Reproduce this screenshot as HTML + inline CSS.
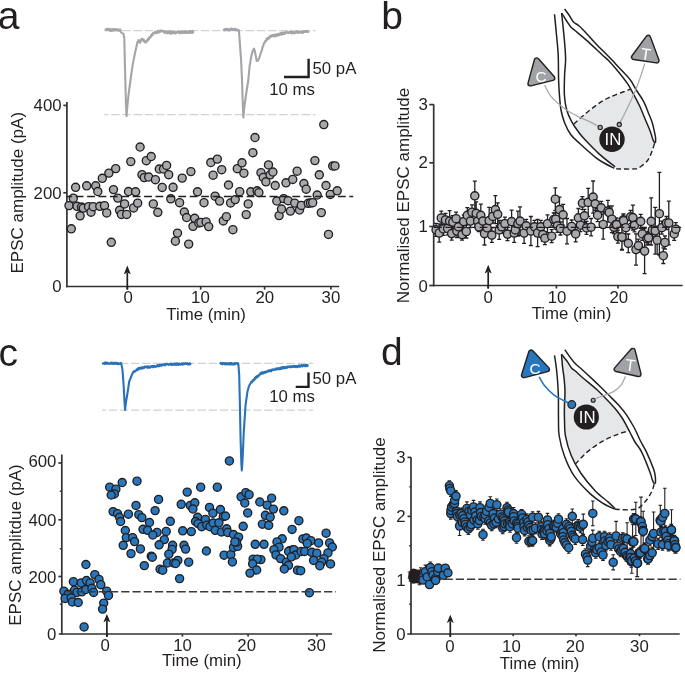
<!DOCTYPE html>
<html><head><meta charset="utf-8"><style>
html,body{margin:0;padding:0;background:#fff;}
svg{display:block;will-change:transform;font-family:"Liberation Sans",sans-serif;}
</style></head><body>
<svg width="685" height="673" viewBox="0 0 685 673">
<rect width="685" height="673" fill="#fff"/>
<path d="M573.80,124.00 C575.83,122.20 582.05,116.48 586.00,113.20 C589.95,109.92 594.00,106.75 597.50,104.30 C601.00,101.85 603.98,100.08 607.00,98.50 C610.02,96.92 611.68,96.35 615.60,94.80 C619.52,93.25 628.02,90.13 630.50,89.20 L632.40,92.20 L639.50,105.80 L645.50,120.00 L650.30,131.40 L652.70,139.00 L654.60,142.80 L654.60,143.20 L651.70,152.30 L647.40,160.80 L640.80,166.50 L635.10,168.90 L616.10,168.90 L615.10,166.80 L599.30,154.10 L585.30,140.10 L578.50,132.00 Z" fill="#e6e7e8" stroke="none"/>
<path d="M554.50,14.30 C554.83,17.75 555.88,28.22 556.50,35.00 C557.12,41.78 557.85,47.50 558.20,55.00 C558.55,62.50 558.38,73.17 558.60,80.00 C558.82,86.83 559.10,91.00 559.50,96.00 C559.90,101.00 560.17,105.58 561.00,110.00 C561.83,114.42 562.88,118.42 564.50,122.50 C566.12,126.58 568.12,130.95 570.70,134.50 C573.28,138.05 575.82,139.95 580.00,143.80 C584.18,147.65 591.63,154.32 595.80,157.60 C599.97,160.88 601.93,161.72 605.00,163.50 C608.07,165.28 612.67,167.50 614.20,168.30" fill="none" stroke="#231f20" stroke-width="1.5" stroke-linejoin="round"/>
<path d="M561.60,13.10 C561.80,14.92 562.27,18.68 562.80,24.00 C563.33,29.32 564.33,39.00 564.80,45.00 C565.27,51.00 565.63,55.00 565.60,60.00 C565.57,65.00 564.80,69.17 564.60,75.00 C564.40,80.83 564.05,89.17 564.40,95.00 C564.75,100.83 565.47,105.53 566.70,110.00 C567.93,114.47 569.83,118.13 571.80,121.80 C573.77,125.47 576.25,128.95 578.50,132.00 C580.75,135.05 581.83,136.42 585.30,140.10 C588.77,143.78 594.33,149.65 599.30,154.10 C604.27,158.55 612.47,164.68 615.10,166.80" fill="none" stroke="#231f20" stroke-width="1.5" stroke-linejoin="round"/>
<path d="M561.60,13.10 C562.33,14.25 564.50,17.73 566.00,20.00 C567.50,22.27 569.15,24.98 570.60,26.70 C572.05,28.42 572.03,28.02 574.70,30.30 C577.37,32.58 582.03,36.33 586.60,40.40 C591.17,44.47 598.45,51.35 602.10,54.70 C605.75,58.05 606.10,58.03 608.50,60.50 C610.90,62.97 613.42,65.77 616.50,69.50 C619.58,73.23 624.35,79.12 627.00,82.90 C629.65,86.68 630.32,88.38 632.40,92.20 C634.48,96.02 637.32,101.17 639.50,105.80 C641.68,110.43 643.70,115.73 645.50,120.00 C647.30,124.27 649.10,128.23 650.30,131.40 C651.50,134.57 651.98,137.10 652.70,139.00 C653.42,140.90 654.28,142.17 654.60,142.80" fill="none" stroke="#231f20" stroke-width="1.5" stroke-linejoin="round"/>
<path d="M564.60,8.90 C565.33,9.92 567.52,12.82 569.00,15.00 C570.48,17.18 571.75,20.13 573.50,22.00 C575.25,23.87 577.08,24.03 579.50,26.20 C581.92,28.37 585.23,32.03 588.00,35.00 C590.77,37.97 592.97,40.72 596.10,44.00 C599.23,47.28 604.15,52.03 606.80,54.70 C609.45,57.37 609.75,57.62 612.00,60.00 C614.25,62.38 617.27,65.70 620.30,69.00 C623.33,72.30 627.53,76.30 630.20,79.80 C632.87,83.30 634.05,86.37 636.30,90.00 C638.55,93.63 641.68,97.77 643.70,101.60 C645.72,105.43 646.98,109.52 648.40,113.00 C649.82,116.48 651.18,119.33 652.20,122.50 C653.22,125.67 653.93,129.42 654.50,132.00 C655.07,134.58 655.43,136.20 655.60,138.00 C655.77,139.80 655.52,142.00 655.50,142.80" fill="none" stroke="#231f20" stroke-width="1.5" stroke-linejoin="round"/>
<path d="M654.6,142.8 L655.5,142.8" stroke="#231f20" stroke-width="1.4"/>
<path d="M573.80,124.00 C575.83,122.20 582.05,116.48 586.00,113.20 C589.95,109.92 594.00,106.75 597.50,104.30 C601.00,101.85 603.98,100.08 607.00,98.50 C610.02,96.92 611.68,96.35 615.60,94.80 C619.52,93.25 628.02,90.13 630.50,89.20" fill="none" stroke="#231f20" stroke-width="1.4" stroke-dasharray="5 3"/>
<path d="M616.10,168.90 C619.27,168.90 630.98,169.30 635.10,168.90 C639.22,168.50 638.75,167.85 640.80,166.50 C642.85,165.15 645.58,163.17 647.40,160.80 C649.22,158.43 650.50,155.23 651.70,152.30 C652.90,149.37 654.12,144.72 654.60,143.20" fill="none" stroke="#231f20" stroke-width="1.4" stroke-dasharray="5 3"/>
<path d="M544.60,85.10 C545.53,86.80 547.73,92.07 550.20,95.30 C552.67,98.53 556.50,101.93 559.40,104.50 C562.30,107.07 564.37,108.65 567.60,110.70 C570.83,112.75 574.88,114.85 578.80,116.80 C582.72,118.75 587.82,120.78 591.10,122.40 C594.38,124.02 597.27,125.82 598.50,126.50" fill="none" stroke="#a7a9ac" stroke-width="1.3"/>
<path d="M644.70,63.60 C644.07,65.60 642.35,71.35 640.90,75.60 C639.45,79.85 637.65,84.93 636.00,89.10 C634.35,93.27 632.83,96.62 631.00,100.60 C629.17,104.58 626.83,109.32 625.00,113.00 C623.17,116.68 620.83,121.08 620.00,122.70" fill="none" stroke="#a7a9ac" stroke-width="1.3"/>
<circle cx="612.0" cy="139.2" r="12.7" fill="#231f20"/>
<text x="613.0" y="144.9" font-size="16.8" text-anchor="middle" fill="#fff">IN</text>
<circle cx="600.2" cy="127.4" r="2.1" fill="#a7a9ac" stroke="#231f20" stroke-width="1.1"/>
<circle cx="619.3" cy="124.5" r="2.1" fill="#a7a9ac" stroke="#231f20" stroke-width="1.1"/>
<path d="M536.70,60.42 L530.39,83.50 L552.35,78.05 Z" fill="#231f20" stroke="#231f20" stroke-width="6.20" stroke-linejoin="round"/><path d="M536.70,60.42 L530.39,83.50 L552.35,78.05 Z" fill="#a0a2a5" stroke="#a0a2a5" stroke-width="3.40" stroke-linejoin="round"/>
<text x="541.0" y="81.8" font-size="15.5" text-anchor="middle" fill="#fff">C</text>
<path d="M648.18,37.77 L633.95,57.17 L656.62,60.52 Z" fill="#231f20" stroke="#231f20" stroke-width="6.20" stroke-linejoin="round"/><path d="M648.18,37.77 L633.95,57.17 L656.62,60.52 Z" fill="#a0a2a5" stroke="#a0a2a5" stroke-width="3.40" stroke-linejoin="round"/>
<text transform="translate(645.0,59.9) rotate(8)" font-size="16.5" text-anchor="middle" fill="#fff">T</text>
<path d="M561.50,354.30 L567.10,361.30 L571.50,368.00 L575.30,371.00 L582.70,377.70 L591.60,385.10 L597.80,390.50 L606.70,399.40 L615.70,409.20 L622.80,419.00 L629.00,430.50 L630.00,430.80 L619.20,433.70 L603.20,440.90 L587.10,452.10 L575.30,464.20 L571.10,455.30 L565.50,436.10 L564.50,420.00 L564.40,406.90 L565.00,392.00 L564.10,378.40 L562.60,367.30 L561.50,354.30 Z" fill="#e6e7e8" stroke="none"/>
<path d="M554.50,355.40 C554.87,358.00 556.07,364.65 556.70,371.00 C557.33,377.35 558.00,385.33 558.30,393.50 C558.60,401.67 558.35,412.92 558.50,420.00 C558.65,427.08 558.18,429.92 559.20,436.00 C560.22,442.08 562.08,449.80 564.60,456.50 C567.12,463.20 570.02,469.97 574.30,476.20 C578.58,482.43 585.48,489.35 590.30,493.90 C595.12,498.45 599.18,500.97 603.20,503.50 C607.22,506.03 612.53,508.17 614.40,509.10" fill="none" stroke="#231f20" stroke-width="1.5" stroke-linejoin="round"/>
<path d="M561.50,354.30 C561.68,356.47 562.17,363.28 562.60,367.30 C563.03,371.32 563.70,374.28 564.10,378.40 C564.50,382.52 564.95,387.25 565.00,392.00 C565.05,396.75 564.48,402.23 564.40,406.90 C564.32,411.57 564.32,415.13 564.50,420.00 C564.68,424.87 564.40,430.22 565.50,436.10 C566.60,441.98 568.57,449.15 571.10,455.30 C573.63,461.45 576.70,467.10 580.70,473.00 C584.70,478.90 590.55,485.88 595.10,490.70 C599.65,495.52 604.65,498.92 608.00,501.90 C611.35,504.88 614.00,507.48 615.20,508.60" fill="none" stroke="#231f20" stroke-width="1.5" stroke-linejoin="round"/>
<path d="M561.50,354.30 C562.43,355.47 565.43,359.02 567.10,361.30 C568.77,363.58 570.13,366.38 571.50,368.00 C572.87,369.62 573.43,369.38 575.30,371.00 C577.17,372.62 579.98,375.35 582.70,377.70 C585.42,380.05 589.08,382.97 591.60,385.10 C594.12,387.23 595.28,388.12 597.80,390.50 C600.32,392.88 603.72,396.28 606.70,399.40 C609.68,402.52 613.02,405.93 615.70,409.20 C618.38,412.47 620.58,415.45 622.80,419.00 C625.02,422.55 626.97,426.67 629.00,430.50 C631.03,434.33 632.88,438.40 635.00,442.00 C637.12,445.60 639.25,447.20 641.70,452.10 C644.15,457.00 647.95,466.85 649.70,471.40 C651.45,475.95 651.52,477.40 652.20,479.40 C652.88,481.40 653.53,482.73 653.80,483.40" fill="none" stroke="#231f20" stroke-width="1.5" stroke-linejoin="round"/>
<path d="M564.90,349.80 C565.63,350.85 567.70,353.93 569.30,356.10 C570.90,358.27 572.38,360.57 574.50,362.80 C576.62,365.03 579.15,366.90 582.00,369.50 C584.85,372.10 588.37,375.35 591.60,378.40 C594.83,381.45 598.43,384.90 601.40,387.80 C604.37,390.70 606.58,392.97 609.40,395.80 C612.22,398.63 615.48,401.67 618.30,404.80 C621.12,407.93 623.62,410.73 626.30,414.60 C628.98,418.47 632.12,423.77 634.40,428.00 C636.68,432.23 637.98,435.98 640.00,440.00 C642.02,444.02 644.20,447.13 646.50,452.10 C648.80,457.07 652.32,465.52 653.80,469.80 C655.28,474.08 655.13,475.53 655.40,477.80 C655.67,480.07 655.40,482.47 655.40,483.40" fill="none" stroke="#231f20" stroke-width="1.5" stroke-linejoin="round"/>
<path d="M653.8,483.4 L655.4,483.4" stroke="#231f20" stroke-width="1.4"/>
<path d="M575.30,464.20 C577.27,462.18 582.45,455.98 587.10,452.10 C591.75,448.22 597.85,443.97 603.20,440.90 C608.55,437.83 614.73,435.38 619.20,433.70 C623.67,432.02 628.20,431.28 630.00,430.80" fill="none" stroke="#231f20" stroke-width="1.4" stroke-dasharray="5 3"/>
<path d="M614.80,509.30 C618.22,509.30 630.28,510.53 635.30,509.30 C640.32,508.07 642.22,504.73 644.90,501.90 C647.58,499.07 649.85,495.28 651.40,492.30 C652.95,489.32 653.73,485.38 654.20,484.00" fill="none" stroke="#231f20" stroke-width="1.4" stroke-dasharray="5 3"/>
<path d="M539.10,376.80 C539.98,378.25 541.95,382.50 544.40,385.50 C546.85,388.50 550.68,392.35 553.80,394.80 C556.92,397.25 560.65,398.85 563.10,400.20 C565.55,401.55 567.60,402.45 568.50,402.90" fill="none" stroke="#2877bd" stroke-width="1.6"/>
<path d="M625.50,376.20 C624.75,377.70 622.93,382.67 621.00,385.20 C619.07,387.73 616.57,389.77 613.90,391.40 C611.23,393.03 608.05,393.82 605.00,395.00 C601.95,396.18 597.17,397.92 595.60,398.50" fill="none" stroke="#a7a9ac" stroke-width="1.3"/>
<circle cx="586.3" cy="417.0" r="12.6" fill="#231f20"/>
<text x="587.2" y="422.8" font-size="16.8" text-anchor="middle" fill="#fff">IN</text>
<circle cx="571.8" cy="404.6" r="3.9" fill="#2877bd" stroke="#231f20" stroke-width="1.2"/>
<circle cx="593.2" cy="400.3" r="2.0" fill="#a7a9ac" stroke="#231f20" stroke-width="1.1"/>
<path d="M531.08,352.43 L523.94,375.26 L547.01,369.26 Z" fill="#231f20" stroke="#231f20" stroke-width="6.20" stroke-linejoin="round"/><path d="M531.08,352.43 L523.94,375.26 L547.01,369.26 Z" fill="#2877bd" stroke="#2877bd" stroke-width="3.40" stroke-linejoin="round"/>
<text x="535.0" y="373.6" font-size="15.5" text-anchor="middle" fill="#fff">C</text>
<path d="M632.76,350.81 L616.63,369.19 L638.62,374.20 Z" fill="#231f20" stroke="#231f20" stroke-width="6.20" stroke-linejoin="round"/><path d="M632.76,350.81 L616.63,369.19 L638.62,374.20 Z" fill="#a0a2a5" stroke="#a0a2a5" stroke-width="3.40" stroke-linejoin="round"/>
<text transform="translate(629.6,371.0) rotate(8)" font-size="16.5" text-anchor="middle" fill="#fff">T</text>
<text x="-2.30" y="28.50" font-size="39" text-anchor="start" fill="#231f20" >a</text>
<text x="381.30" y="28.50" font-size="39" text-anchor="start" fill="#231f20" >b</text>
<text x="-1.50" y="365.50" font-size="39" text-anchor="start" fill="#231f20" >c</text>
<text x="381.00" y="365.30" font-size="39" text-anchor="start" fill="#231f20" >d</text>
<line x1="104.10" y1="30.60" x2="315.60" y2="30.60" stroke="#cfd1d2" stroke-width="1.3" stroke-dasharray="8.4 2.8" stroke-dashoffset="4.1"/>
<line x1="104.10" y1="114.70" x2="315.60" y2="114.70" stroke="#cfd1d2" stroke-width="1.3" stroke-dasharray="8.4 2.8" stroke-dashoffset="4.1"/>
<path d="M105.70,29.51 L106.00,29.13 L106.30,30.24 L106.60,28.97 L106.90,29.99 L107.20,29.61 L107.50,28.94 L107.80,29.93 L108.10,28.90 L108.40,29.77 L108.70,28.97 L109.00,29.02 L109.30,29.76 L109.60,30.65 L109.90,29.10 L110.20,29.32 L110.50,30.21 L110.80,30.92 L111.10,30.11 L111.40,29.71 L111.70,30.99 L112.00,28.94 L112.30,30.73 L112.60,29.48 L112.90,29.17 L113.20,29.11 L113.50,29.53 L113.80,30.65 L114.10,29.25 L114.40,30.14 L114.70,30.27 L115.00,29.68 L115.30,30.07 L115.60,29.00 L115.90,29.00 L116.20,29.32 L116.50,30.37 L116.80,29.81 L117.10,29.57 L117.40,30.17 L117.70,29.88 L118.00,29.54 L118.30,30.63 L118.60,30.42 L118.90,29.43 L119.20,30.15 L119.50,30.05 L119.80,30.82 L120.10,30.50 L120.40,29.53 L120.70,31.06 L121.10,32.30 L123.40,33.80 L124.30,37.80 L124.70,55.60 L125.30,80.00 L126.00,105.00 L126.50,116.30 L127.20,108.00 L128.50,95.00 L130.50,80.00 L132.70,64.60 L135.00,53.00 L137.20,43.20 L137.20,42.36 L137.52,42.34 L137.85,42.42 L138.18,40.41 L138.50,40.48 L138.85,39.99 L139.20,41.87 L139.55,42.58 L139.90,42.66 L140.24,42.57 L140.58,40.57 L140.92,40.65 L141.26,39.67 L141.60,38.88 L141.93,38.86 L142.26,39.96 L142.59,40.45 L142.91,39.67 L143.24,40.35 L143.57,39.28 L143.90,40.94 L144.21,41.11 L144.53,42.16 L144.84,42.07 L145.16,41.17 L145.47,41.68 L145.79,42.59 L146.10,41.45 L146.41,41.94 L146.73,40.83 L147.04,40.24 L147.36,39.64 L147.67,40.73 L147.99,38.86 L148.30,38.64 L148.63,38.55 L148.95,39.20 L149.28,37.05 L149.61,37.45 L149.94,37.26 L150.26,37.59 L150.59,37.04 L150.92,36.73 L151.25,35.03 L151.57,34.92 L151.90,34.39 L152.23,35.35 L152.55,35.31 L152.88,33.33 L153.21,33.19 L153.54,33.11 L153.86,32.91 L154.19,33.27 L154.52,33.30 L154.85,32.38 L155.17,31.61 L155.50,32.32 L155.81,32.13 L156.13,32.47 L156.44,33.24 L156.76,32.58 L157.07,32.11 L157.39,32.24 L157.70,32.29 L158.01,30.83 L158.33,32.61 L158.64,32.26 L158.96,32.38 L159.27,32.13 L159.59,31.15 L159.90,31.08 L160.23,30.49 L160.55,31.72 L160.88,30.53 L161.21,30.60 L161.54,30.98 L161.86,30.94 L162.19,31.39 L162.52,30.82 L162.85,30.77 L163.17,31.17 L163.50,31.12 L163.81,31.73 L164.12,31.01 L164.43,32.91 L164.74,32.37 L165.05,31.37 L165.36,31.63 L165.67,31.86 L165.98,31.93 L166.29,31.43 L166.60,33.05 L166.90,33.40 L167.21,32.27 L167.52,32.34 L167.83,31.49 L168.14,31.55 L168.45,32.11 L168.76,31.97 L169.07,33.24 L169.38,31.80 L169.69,31.52 L170.00,33.59 L170.30,32.65 L170.61,31.80 L170.91,32.66 L171.22,31.52 L171.52,32.61 L171.82,33.59 L172.13,33.33 L172.43,32.95 L172.74,31.98 L173.04,32.20 L173.34,31.75 L173.65,33.07 L173.95,32.53 L174.26,33.07 L174.56,32.07 L174.86,31.82 L175.17,33.11 L175.47,33.48 L175.78,33.18 L176.08,33.06 L176.38,33.08 L176.69,32.90 L176.99,31.76 L177.29,32.39 L177.60,32.02 L177.90,31.29 L178.21,31.28 L178.51,31.82 L178.81,31.76 L179.12,32.71 L179.42,33.28 L179.73,32.15 L180.03,33.21 L180.33,33.32 L180.64,33.23 L180.94,31.92 L181.25,31.60 L181.55,31.60 L181.85,31.52 L182.16,31.53 L182.46,32.44 L182.77,33.04 L183.07,32.90 L183.37,32.09 L183.68,32.46 L183.98,32.78 L184.29,31.19 L184.59,32.45 L184.89,32.99 L185.20,32.69 L185.50,32.61 L185.81,32.00 L186.11,31.33 L186.41,32.67 L186.72,31.65 L187.02,32.67 L187.32,33.04 L187.63,31.76 L187.93,31.76 L188.24,32.95 L188.54,32.45 L188.84,31.22 L189.15,31.12 L189.45,31.16 L189.76,32.81 L190.06,32.58 L190.36,31.12 L190.67,32.60 L190.97,32.93 L191.28,32.21 L191.58,31.52 L191.88,31.95 L192.19,31.02 L192.49,30.75 L192.80,32.85 L193.10,31.80" fill="none" stroke="#a3a5a8" stroke-width="2.1" stroke-linejoin="round" stroke-linecap="round"/>
<path d="M223.70,29.80 L224.00,29.56 L224.30,30.37 L224.60,29.37 L224.90,30.25 L225.20,30.16 L225.50,28.93 L225.80,29.02 L226.10,29.10 L226.40,29.00 L226.70,29.69 L227.00,29.04 L227.30,29.36 L227.60,28.79 L227.90,30.35 L228.20,29.24 L228.50,29.45 L228.80,29.70 L229.10,30.35 L229.40,29.38 L229.70,30.38 L230.00,29.55 L230.30,29.61 L230.60,29.60 L230.90,28.59 L231.20,29.43 L231.50,28.92 L231.80,28.57 L232.10,30.16 L232.40,28.91 L232.70,29.51 L233.00,30.02 L233.30,29.68 L233.60,29.22 L233.90,29.61 L234.20,29.69 L234.50,30.15 L234.80,28.79 L235.10,29.70 L235.40,29.08 L235.70,29.14 L236.00,30.13 L236.30,29.60 L236.60,29.71 L236.90,30.11 L237.20,30.42 L237.50,29.48 L237.80,29.83 L238.90,30.50 L239.80,42.30 L241.10,60.10 L242.00,80.00 L242.80,105.00 L243.40,117.50 L244.20,108.00 L246.00,95.00 L248.30,80.00 L249.60,66.30 L251.40,55.60 L253.00,50.00 L254.10,48.50 L255.20,53.00 L256.70,61.00 L258.00,60.50 L259.40,57.40 L259.40,57.41 L259.70,56.46 L260.00,55.85 L260.30,54.40 L260.60,53.60 L260.90,52.52 L261.20,52.48 L261.50,51.03 L261.80,50.42 L262.10,49.58 L262.40,47.25 L262.70,46.89 L263.00,46.69 L263.32,45.92 L263.64,43.95 L263.95,43.35 L264.27,43.43 L264.59,42.13 L264.91,41.90 L265.23,41.00 L265.55,41.63 L265.86,41.30 L266.18,40.96 L266.50,38.91 L266.80,39.77 L267.10,39.40 L267.40,38.11 L267.70,39.33 L268.00,39.24 L268.30,37.49 L268.60,38.70 L268.90,37.33 L269.20,37.25 L269.50,38.00 L269.80,37.42 L270.10,35.82 L270.41,36.30 L270.72,36.40 L271.03,35.98 L271.34,35.63 L271.65,35.81 L271.96,36.55 L272.27,35.08 L272.58,36.09 L272.89,35.80 L273.20,34.89 L273.51,35.45 L273.82,35.97 L274.13,35.68 L274.44,34.72 L274.75,36.50 L275.06,36.04 L275.37,36.34 L275.68,34.54 L275.99,34.80 L276.30,34.28 L276.61,35.67 L276.93,34.57 L277.24,34.20 L277.55,34.70 L277.87,35.59 L278.18,35.32 L278.49,34.11 L278.80,33.80 L279.12,35.26 L279.43,34.47 L279.74,34.64 L280.06,33.34 L280.37,33.18 L280.68,34.36 L281.00,33.75 L281.31,32.95 L281.62,34.60 L281.93,33.90 L282.25,34.15 L282.56,32.63 L282.87,34.09 L283.19,32.42 L283.50,33.93 L283.81,33.08 L284.12,32.82 L284.43,33.22 L284.74,33.94 L285.05,32.59 L285.36,32.29 L285.67,33.05 L285.98,32.45 L286.29,32.16 L286.60,32.24 L286.90,31.99 L287.21,32.26 L287.52,32.45 L287.83,32.41 L288.14,33.29 L288.45,32.32 L288.76,32.71 L289.07,32.04 L289.38,32.35 L289.69,31.66 L290.00,32.10 L290.30,31.62 L290.60,33.04 L290.90,32.66 L291.20,31.93 L291.50,32.49 L291.80,33.39 L292.10,31.72 L292.40,33.13 L292.70,32.35 L293.00,32.46 L293.30,33.13 L293.60,32.23 L293.90,32.45 L294.20,32.79 L294.50,33.37 L294.80,32.08 L295.10,33.05 L295.40,32.78 L295.70,32.63 L296.00,32.15 L296.30,32.02 L296.60,31.42 L296.90,31.56 L297.20,31.43 L297.50,32.76 L297.80,31.78 L298.10,31.58 L298.40,31.41 L298.70,32.91 L299.00,32.95 L299.30,32.54 L299.60,31.75 L299.90,31.66 L300.20,31.75 L300.50,32.07 L300.80,31.45 L301.10,32.01 L301.40,31.64 L301.70,33.02 L302.00,33.03 L302.30,32.17 L302.60,31.55 L302.90,32.98 L303.20,31.65 L303.50,31.73 L303.80,31.01 L304.10,31.76 L304.40,31.93 L304.70,31.97 L305.00,31.36 L305.30,31.95 L305.60,30.94 L305.90,31.44 L306.20,31.08 L306.50,31.69 L306.80,30.96 L307.10,30.91 L307.40,31.46 L307.70,31.30 L308.00,32.00 L308.30,31.87 L308.60,31.80" fill="none" stroke="#a3a5a8" stroke-width="2.1" stroke-linejoin="round" stroke-linecap="round"/>
<path d="M284.0,77.0 H308.6 V58.8" fill="none" stroke="#231f20" stroke-width="2.4"/>
<text x="312.50" y="74.20" font-size="16.8" text-anchor="start" fill="#231f20" >50 pA</text>
<text x="269.20" y="94.50" font-size="16.8" text-anchor="start" fill="#231f20" >10 ms</text>
<line x1="66.90" y1="102.10" x2="66.90" y2="287.30" stroke="#333132" stroke-width="1.7" />
<line x1="66.10" y1="286.50" x2="339.20" y2="286.50" stroke="#333132" stroke-width="1.7" />
<line x1="63.30" y1="105.40" x2="66.90" y2="105.40" stroke="#333132" stroke-width="1.7" />
<line x1="63.30" y1="192.80" x2="66.90" y2="192.80" stroke="#333132" stroke-width="1.7" />
<line x1="127.40" y1="286.50" x2="127.40" y2="289.60" stroke="#333132" stroke-width="1.7" />
<line x1="200.70" y1="286.50" x2="200.70" y2="289.60" stroke="#333132" stroke-width="1.7" />
<line x1="264.60" y1="286.50" x2="264.60" y2="289.60" stroke="#333132" stroke-width="1.7" />
<line x1="330.90" y1="286.50" x2="330.90" y2="289.60" stroke="#333132" stroke-width="1.7" />
<text x="61.60" y="110.70" font-size="16.8" text-anchor="end" fill="#231f20" >400</text>
<text x="61.60" y="198.70" font-size="16.8" text-anchor="end" fill="#231f20" >200</text>
<text x="61.60" y="292.30" font-size="16.8" text-anchor="end" fill="#231f20" >0</text>
<text x="128.10" y="303.40" font-size="16.8" text-anchor="middle" fill="#231f20" >0</text>
<text x="200.40" y="303.40" font-size="16.8" text-anchor="middle" fill="#231f20" >10</text>
<text x="264.85" y="303.40" font-size="16.8" text-anchor="middle" fill="#231f20" >20</text>
<text x="330.90" y="303.40" font-size="16.8" text-anchor="middle" fill="#231f20" >30</text>
<text transform="translate(23.00,273.50) rotate(-90)" font-size="17.0" fill="#231f20">EPSC amplitude (pA)</text>
<text x="166.30" y="319.70" font-size="16.8" text-anchor="start" fill="#231f20" >Time (min)</text>
<line x1="127.30" y1="272.60" x2="127.30" y2="289.50" stroke="#231f20" stroke-width="1.7" />
<path d="M127.30,265.40 L130.80,274.20 L127.30,272.40 L123.80,274.20 Z" fill="#231f20"/>
<g fill="#a7a9ac" stroke="#231f20" stroke-width="1.35"><circle cx="69.0" cy="205.6" r="4.05"/><circle cx="73.3" cy="198.2" r="4.05"/><circle cx="75.6" cy="187.3" r="4.05"/><circle cx="77.1" cy="206.3" r="4.05"/><circle cx="80.1" cy="215.8" r="4.05"/><circle cx="81.5" cy="207.0" r="4.05"/><circle cx="83.3" cy="208.1" r="4.05"/><circle cx="86.7" cy="185.8" r="4.05"/><circle cx="88.5" cy="206.7" r="4.05"/><circle cx="91.0" cy="212.2" r="4.05"/><circle cx="93.2" cy="206.7" r="4.05"/><circle cx="95.7" cy="185.8" r="4.05"/><circle cx="97.8" cy="191.5" r="4.05"/><circle cx="99.8" cy="206.3" r="4.05"/><circle cx="102.3" cy="178.3" r="4.05"/><circle cx="104.5" cy="205.6" r="4.05"/><circle cx="106.7" cy="212.9" r="4.05"/><circle cx="108.9" cy="173.1" r="4.05"/><circle cx="113.5" cy="189.6" r="4.05"/><circle cx="115.7" cy="168.6" r="4.05"/><circle cx="117.8" cy="198.1" r="4.05"/><circle cx="119.6" cy="210.3" r="4.05"/><circle cx="121.4" cy="214.4" r="4.05"/><circle cx="124.6" cy="203.9" r="4.05"/><circle cx="126.7" cy="214.4" r="4.05"/><circle cx="128.5" cy="191.5" r="4.05"/><circle cx="130.8" cy="161.6" r="4.05"/><circle cx="133.6" cy="207.9" r="4.05"/><circle cx="135.6" cy="191.8" r="4.05"/><circle cx="137.7" cy="203.1" r="4.05"/><circle cx="71.3" cy="228.8" r="4.05"/><circle cx="111.3" cy="242.3" r="4.05"/><circle cx="140.1" cy="147.0" r="4.05"/><circle cx="142.0" cy="174.7" r="4.05"/><circle cx="144.2" cy="177.6" r="4.05"/><circle cx="146.3" cy="160.7" r="4.05"/><circle cx="148.7" cy="177.0" r="4.05"/><circle cx="151.2" cy="156.5" r="4.05"/><circle cx="153.3" cy="203.9" r="4.05"/><circle cx="155.4" cy="179.7" r="4.05"/><circle cx="157.8" cy="212.3" r="4.05"/><circle cx="159.3" cy="169.0" r="4.05"/><circle cx="162.2" cy="187.4" r="4.05"/><circle cx="163.5" cy="169.0" r="4.05"/><circle cx="166.6" cy="165.4" r="4.05"/><circle cx="168.7" cy="174.7" r="4.05"/><circle cx="170.8" cy="198.8" r="4.05"/><circle cx="173.1" cy="187.3" r="4.05"/><circle cx="175.4" cy="241.2" r="4.05"/><circle cx="177.5" cy="233.1" r="4.05"/><circle cx="179.6" cy="202.7" r="4.05"/><circle cx="182.2" cy="178.1" r="4.05"/><circle cx="184.3" cy="212.0" r="4.05"/><circle cx="186.6" cy="217.5" r="4.05"/><circle cx="188.7" cy="244.1" r="4.05"/><circle cx="190.9" cy="171.6" r="4.05"/><circle cx="193.0" cy="226.3" r="4.05"/><circle cx="194.7" cy="218.3" r="4.05"/><circle cx="197.5" cy="191.8" r="4.05"/><circle cx="198.8" cy="223.0" r="4.05"/><circle cx="200.9" cy="222.4" r="4.05"/><circle cx="206.1" cy="221.9" r="4.05"/><circle cx="208.7" cy="226.6" r="4.05"/><circle cx="204.0" cy="202.7" r="4.05"/><circle cx="210.8" cy="162.5" r="4.05"/><circle cx="213.1" cy="175.2" r="4.05"/><circle cx="215.1" cy="196.2" r="4.05"/><circle cx="217.3" cy="159.1" r="4.05"/><circle cx="219.6" cy="201.1" r="4.05"/><circle cx="221.7" cy="169.7" r="4.05"/><circle cx="223.3" cy="220.9" r="4.05"/><circle cx="226.4" cy="216.7" r="4.05"/><circle cx="228.5" cy="185.0" r="4.05"/><circle cx="230.6" cy="202.9" r="4.05"/><circle cx="232.9" cy="229.7" r="4.05"/><circle cx="235.2" cy="199.6" r="4.05"/><circle cx="237.3" cy="168.7" r="4.05"/><circle cx="239.7" cy="191.7" r="4.05"/><circle cx="242.0" cy="162.8" r="4.05"/><circle cx="243.9" cy="173.2" r="4.05"/><circle cx="246.2" cy="214.6" r="4.05"/><circle cx="248.2" cy="203.9" r="4.05"/><circle cx="250.8" cy="191.8" r="4.05"/><circle cx="252.9" cy="152.7" r="4.05"/><circle cx="255.0" cy="137.5" r="4.05"/><circle cx="257.1" cy="190.8" r="4.05"/><circle cx="258.9" cy="192.6" r="4.05"/><circle cx="261.0" cy="172.7" r="4.05"/><circle cx="263.3" cy="177.4" r="4.05"/><circle cx="265.9" cy="181.8" r="4.05"/><circle cx="268.5" cy="164.9" r="4.05"/><circle cx="270.1" cy="174.8" r="4.05"/><circle cx="272.9" cy="172.0" r="4.05"/><circle cx="275.2" cy="185.5" r="4.05"/><circle cx="276.8" cy="201.0" r="4.05"/><circle cx="279.1" cy="215.6" r="4.05"/><circle cx="281.5" cy="209.0" r="4.05"/><circle cx="283.6" cy="198.6" r="4.05"/><circle cx="286.0" cy="182.8" r="4.05"/><circle cx="288.1" cy="200.7" r="4.05"/><circle cx="290.4" cy="211.1" r="4.05"/><circle cx="292.7" cy="179.4" r="4.05"/><circle cx="294.7" cy="203.1" r="4.05"/><circle cx="297.1" cy="171.2" r="4.05"/><circle cx="299.5" cy="210.0" r="4.05"/><circle cx="301.3" cy="205.4" r="4.05"/><circle cx="303.9" cy="183.5" r="4.05"/><circle cx="306.2" cy="189.2" r="4.05"/><circle cx="308.2" cy="203.3" r="4.05"/><circle cx="310.5" cy="203.0" r="4.05"/><circle cx="312.7" cy="202.7" r="4.05"/><circle cx="314.9" cy="160.6" r="4.05"/><circle cx="317.2" cy="195.0" r="4.05"/><circle cx="319.3" cy="174.8" r="4.05"/><circle cx="321.3" cy="212.6" r="4.05"/><circle cx="323.8" cy="124.6" r="4.05"/><circle cx="326.0" cy="185.5" r="4.05"/><circle cx="328.5" cy="234.4" r="4.05"/><circle cx="330.3" cy="194.4" r="4.05"/><circle cx="332.7" cy="166.0" r="4.05"/><circle cx="335.0" cy="165.9" r="4.05"/><circle cx="337.2" cy="190.8" r="4.05"/></g>
<line x1="67.00" y1="196.60" x2="353.20" y2="196.60" stroke="#231f20" stroke-width="1.5" stroke-dasharray="7.8 3.6" stroke-dashoffset="2.7"/>
<line x1="433.70" y1="104.30" x2="433.70" y2="286.30" stroke="#333132" stroke-width="1.7" />
<line x1="432.90" y1="285.50" x2="682.70" y2="285.50" stroke="#333132" stroke-width="1.7" />
<line x1="429.30" y1="104.60" x2="433.70" y2="104.60" stroke="#333132" stroke-width="1.7" />
<line x1="429.30" y1="162.80" x2="433.70" y2="162.80" stroke="#333132" stroke-width="1.7" />
<line x1="429.30" y1="226.50" x2="433.70" y2="226.50" stroke="#333132" stroke-width="1.7" />
<line x1="429.30" y1="285.50" x2="433.70" y2="285.50" stroke="#333132" stroke-width="1.7" />
<line x1="488.20" y1="285.50" x2="488.20" y2="288.50" stroke="#333132" stroke-width="1.7" />
<line x1="556.40" y1="285.50" x2="556.40" y2="288.50" stroke="#333132" stroke-width="1.7" />
<line x1="618.00" y1="285.50" x2="618.00" y2="288.50" stroke="#333132" stroke-width="1.7" />
<text x="427.90" y="109.80" font-size="16.8" text-anchor="end" fill="#231f20" >3</text>
<text x="427.90" y="167.50" font-size="16.8" text-anchor="end" fill="#231f20" >2</text>
<text x="427.90" y="231.80" font-size="16.8" text-anchor="end" fill="#231f20" >1</text>
<text x="427.90" y="291.90" font-size="16.8" text-anchor="end" fill="#231f20" >0</text>
<text x="488.20" y="303.40" font-size="16.8" text-anchor="middle" fill="#231f20" >0</text>
<text x="557.00" y="303.40" font-size="16.8" text-anchor="middle" fill="#231f20" >10</text>
<text x="618.80" y="303.40" font-size="16.8" text-anchor="middle" fill="#231f20" >20</text>
<text transform="translate(408.80,303.20) rotate(-90)" font-size="17.0" fill="#231f20">Normalised EPSC amplitude</text>
<text x="531.70" y="319.40" font-size="16.8" text-anchor="start" fill="#231f20" >Time (min)</text>
<line x1="488.20" y1="271.80" x2="488.20" y2="288.50" stroke="#231f20" stroke-width="1.7" />
<path d="M488.20,264.70 L491.70,273.40 L488.20,271.60 L484.70,273.40 Z" fill="#231f20"/>
<path d="M436.1,223.4V236.4M434.1,223.4H438.1M434.1,236.4H438.1M439.2,223.8V242.2M437.2,223.8H441.2M437.2,242.2H441.2M441.3,211.2V224.8M439.3,211.2H443.3M439.3,224.8H443.3M443.4,222.4V235.4M441.4,222.4H445.4M441.4,235.4H445.4M445.5,213.3V226.7M443.5,213.3H447.5M443.5,226.7H447.5M447.6,221.9V234.9M445.6,221.9H449.6M445.6,234.9H449.6M449.6,210.7V231.5M447.6,210.7H451.6M447.6,231.5H451.6M451.7,227.1V240.1M449.7,227.1H453.7M449.7,240.1H453.7M452.8,215.6V228.6M450.8,215.6H454.8M450.8,228.6H454.8M456.1,212.2V225.2M454.1,212.2H458.1M454.1,225.2H458.1M456.9,224.5V237.5M454.9,224.5H458.9M454.9,237.5H458.9M458.5,220.3V233.3M456.5,220.3H460.5M456.5,233.3H460.5M462.1,229.1V240.1M460.1,229.1H464.1M460.1,240.1H464.1M463.7,215.1V228.1M461.7,215.1H465.7M461.7,228.1H465.7M466.3,225.0V238.0M464.3,225.0H468.3M464.3,238.0H468.3M467.3,207.6V223.2M465.3,207.6H469.3M465.3,223.2H469.3M470.4,214.6V227.6M468.4,214.6H472.4M468.4,227.6H472.4M472.0,204.9V219.5M470.0,204.9H474.0M470.0,219.5H474.0M474.8,181.2V210.4M472.8,181.2H476.8M472.8,210.4H476.8M476.2,201.8V224.8M474.2,201.8H478.2M474.2,224.8H478.2M477.7,214.6V227.6M475.7,214.6H479.7M475.7,227.6H479.7M478.8,222.1V231.5M476.8,222.1H480.8M476.8,231.5H480.8M480.8,204.1V226.7M478.8,204.1H482.8M478.8,226.7H482.8M482.9,214.6V227.6M480.9,214.6H484.9M480.9,227.6H484.9M484.5,222.2V245.0M482.5,222.2H486.5M482.5,245.0H486.5M487.1,221.3V234.3M485.1,221.3H489.1M485.1,234.3H489.1M489.2,207.3V233.9M487.2,207.3H491.2M487.2,233.9H491.2M491.8,227.8V242.4M489.8,227.8H493.8M489.8,242.4H493.8M492.8,209.9V222.9M490.8,209.9H494.8M490.8,222.9H494.8M495.4,195.6V223.6M493.4,195.6H497.4M493.4,223.6H497.4M497.7,202.9V225.7M495.7,202.9H499.7M495.7,225.7H499.7M499.2,220.5V239.3M497.2,220.5H501.2M497.2,239.3H501.2M501.6,220.3V233.3M499.6,220.3H503.6M499.6,233.3H503.6M504.9,217.2V230.2M502.9,217.2H506.9M502.9,230.2H506.9M507.5,227.6V240.6M505.5,227.6H509.5M505.5,240.6H509.5M511.6,210.2V233.0M509.6,210.2H513.6M509.6,233.0H513.6M514.2,223.6V242.4M512.2,223.6H516.2M512.2,242.4H516.2M515.3,223.4V236.4M513.3,223.4H517.3M513.3,236.4H517.3M517.9,211.2V236.2M515.9,211.2H519.9M515.9,236.2H519.9M520.0,206.8V235.4M518.0,206.8H522.0M518.0,235.4H522.0M524.1,222.6V243.4M522.1,222.6H526.1M522.1,243.4H526.1M526.2,219.3V232.3M524.2,219.3H528.2M524.2,232.3H528.2M530.9,216.5V245.5M528.9,216.5H532.9M528.9,245.5H532.9M534.5,220.3V233.3M532.5,220.3H536.5M532.5,233.3H536.5M537.6,219.4V246.6M535.6,219.4H539.6M535.6,246.6H539.6M540.8,220.3V233.3M538.8,220.3H542.8M538.8,233.3H542.8M542.8,228.1V241.1M540.8,228.1H544.8M540.8,241.1H544.8M544.9,231.7V244.7M542.9,231.7H546.9M542.9,244.7H546.9M547.5,214.8V232.6M545.5,214.8H549.5M545.5,232.6H549.5M551.7,229.7V242.7M549.7,229.7H553.7M549.7,242.7H553.7M553.8,213.0V226.0M551.8,213.0H555.8M551.8,226.0H555.8M555.3,187.8V210.6M553.3,187.8H557.3M553.3,210.6H557.3M555.7,212.7V225.7M553.7,212.7H557.7M553.7,225.7H557.7M557.4,219.3V232.3M555.4,219.3H559.4M555.4,232.3H559.4M559.5,197.2V222.0M557.5,197.2H561.5M557.5,222.0H561.5M560.4,222.0V235.0M558.4,222.0H562.4M558.4,235.0H562.4M563.1,204.4V225.2M561.1,204.4H565.1M561.1,225.2H565.1M567.0,218.5V243.9M565.0,218.5H569.0M565.0,243.9H569.0M571.7,220.0V233.0M569.7,220.0H573.7M569.7,233.0H573.7M575.7,225.9V241.9M573.7,225.9H577.7M573.7,241.9H577.7M578.4,208.5V227.1M576.4,208.5H580.4M576.4,227.1H580.4M580.4,218.7V231.7M578.4,218.7H582.4M578.4,231.7H582.4M582.4,196.6V209.6M580.4,196.6H584.4M580.4,209.6H584.4M584.4,209.3V222.3M582.4,209.3H586.4M582.4,222.3H586.4M586.5,221.4V234.4M584.5,221.4H588.5M584.5,234.4H588.5M588.2,188.4V216.4M586.2,188.4H590.2M586.2,216.4H590.2M591.1,218.5V235.9M589.1,218.5H593.1M589.1,235.9H593.1M593.1,181.0V213.2M591.1,181.0H595.1M591.1,213.2H595.1M595.2,197.3V210.3M593.2,197.3H597.2M593.2,210.3H597.2M597.6,208.7V221.7M595.6,208.7H599.6M595.6,221.7H599.6M601.2,201.3V214.3M599.2,201.3H603.2M599.2,214.3H603.2M603.2,209.8V239.2M601.2,209.8H605.2M601.2,239.2H605.2M607.9,200.4V221.8M605.9,200.4H609.9M605.9,221.8H609.9M609.2,206.0V219.0M607.2,206.0H611.2M607.2,219.0H611.2M611.9,205.8V232.6M609.9,205.8H613.9M609.9,232.6H613.9M613.9,220.7V233.7M611.9,220.7H615.9M611.9,233.7H615.9M615.9,218.0V231.0M613.9,218.0H617.9M613.9,231.0H617.9M616.6,218.1V231.1M614.6,218.1H618.6M614.6,231.1H618.6M617.9,230.1V243.1M615.9,230.1H619.9M615.9,243.1H619.9M621.9,224.4V250.0M619.9,224.4H623.9M619.9,250.0H623.9M622.0,224.5V249.5M620.0,224.5H624.0M620.0,249.5H624.0M623.3,213.8V225.8M621.3,213.8H625.3M621.3,225.8H625.3M623.6,214.2V227.2M621.6,214.2H625.6M621.6,227.2H625.6M625.9,221.2V234.2M623.9,221.2H627.9M623.9,234.2H627.9M628.3,234.0V252.6M626.3,234.0H630.3M626.3,252.6H630.3M630.6,210.3V223.3M628.6,210.3H632.6M628.6,223.3H632.6M632.9,205.1V230.1M630.9,205.1H634.9M630.9,230.1H634.9M634.5,218.8V231.8M632.5,218.8H636.5M632.5,231.8H636.5M636.0,233.9V265.1M634.0,233.9H638.0M634.0,265.1H638.0M638.4,239.1V252.1M636.4,239.1H640.4M636.4,252.1H640.4M640.7,214.4V228.4M638.7,214.4H642.7M638.7,228.4H642.7M642.3,227.4V240.4M640.3,227.4H644.3M640.3,240.4H644.3M644.6,228.5V273.7M642.6,228.5H646.6M642.6,273.7H646.6M647.0,232.1V245.1M645.0,232.1H649.0M645.0,245.1H649.0M648.5,231.3V244.3M646.5,231.3H650.5M646.5,244.3H650.5M651.2,197.8V245.0M649.2,197.8H653.2M649.2,245.0H653.2M652.4,223.5V236.5M650.4,223.5H654.4M650.4,236.5H654.4M655.2,207.4V254.2M653.2,207.4H657.2M653.2,254.2H657.2M657.1,226.2V254.2M655.1,226.2H659.1M655.1,254.2H659.1M659.4,172.3V255.1M657.4,172.3H661.4M657.4,255.1H661.4M661.8,221.2V234.2M659.8,221.2H663.8M659.8,234.2H663.8M663.3,247.9V263.5M661.3,247.9H665.3M661.3,263.5H665.3M664.9,236.0V249.0M662.9,236.0H666.9M662.9,249.0H666.9M666.5,216.5V229.5M664.5,216.5H668.5M664.5,229.5H668.5M668.8,201.2V244.8M666.8,201.2H670.8M666.8,244.8H670.8M674.2,227.4V240.4M672.2,227.4H676.2M672.2,240.4H676.2M675.8,222.7V235.7M673.8,222.7H677.8M673.8,235.7H677.8" stroke="#231f20" stroke-width="1.3" fill="none"/>
<g fill="#a7a9ac" stroke="#231f20" stroke-width="1.35"><circle cx="436.1" cy="229.9" r="4.1"/><circle cx="439.2" cy="233.0" r="4.1"/><circle cx="441.3" cy="218.0" r="4.1"/><circle cx="443.4" cy="228.9" r="4.1"/><circle cx="445.5" cy="220.0" r="4.1"/><circle cx="447.6" cy="228.4" r="4.1"/><circle cx="449.6" cy="221.1" r="4.1"/><circle cx="451.7" cy="233.6" r="4.1"/><circle cx="452.8" cy="222.1" r="4.1"/><circle cx="456.1" cy="218.7" r="4.1"/><circle cx="456.9" cy="231.0" r="4.1"/><circle cx="458.5" cy="226.8" r="4.1"/><circle cx="462.1" cy="234.6" r="4.1"/><circle cx="463.7" cy="221.6" r="4.1"/><circle cx="466.3" cy="231.5" r="4.1"/><circle cx="467.3" cy="215.4" r="4.1"/><circle cx="470.4" cy="221.1" r="4.1"/><circle cx="472.0" cy="212.2" r="4.1"/><circle cx="474.8" cy="195.8" r="4.1"/><circle cx="476.2" cy="213.3" r="4.1"/><circle cx="477.7" cy="221.1" r="4.1"/><circle cx="478.8" cy="226.8" r="4.1"/><circle cx="480.8" cy="215.4" r="4.1"/><circle cx="482.9" cy="221.1" r="4.1"/><circle cx="484.5" cy="233.6" r="4.1"/><circle cx="487.1" cy="227.8" r="4.1"/><circle cx="489.2" cy="220.6" r="4.1"/><circle cx="491.8" cy="235.1" r="4.1"/><circle cx="492.8" cy="216.4" r="4.1"/><circle cx="495.4" cy="209.6" r="4.1"/><circle cx="497.7" cy="214.3" r="4.1"/><circle cx="499.2" cy="229.9" r="4.1"/><circle cx="501.6" cy="226.8" r="4.1"/><circle cx="504.9" cy="223.7" r="4.1"/><circle cx="507.5" cy="234.1" r="4.1"/><circle cx="511.6" cy="221.6" r="4.1"/><circle cx="514.2" cy="233.0" r="4.1"/><circle cx="515.3" cy="229.9" r="4.1"/><circle cx="517.9" cy="223.7" r="4.1"/><circle cx="520.0" cy="221.1" r="4.1"/><circle cx="524.1" cy="233.0" r="4.1"/><circle cx="526.2" cy="225.8" r="4.1"/><circle cx="530.9" cy="231.0" r="4.1"/><circle cx="534.5" cy="226.8" r="4.1"/><circle cx="537.6" cy="233.0" r="4.1"/><circle cx="540.8" cy="226.8" r="4.1"/><circle cx="542.8" cy="234.6" r="4.1"/><circle cx="544.9" cy="238.2" r="4.1"/><circle cx="547.5" cy="223.7" r="4.1"/><circle cx="551.7" cy="236.2" r="4.1"/><circle cx="553.8" cy="219.5" r="4.1"/><circle cx="555.3" cy="199.2" r="4.1"/><circle cx="555.7" cy="219.2" r="4.1"/><circle cx="557.4" cy="225.8" r="4.1"/><circle cx="559.5" cy="209.6" r="4.1"/><circle cx="560.4" cy="228.5" r="4.1"/><circle cx="563.1" cy="214.8" r="4.1"/><circle cx="567.0" cy="231.2" r="4.1"/><circle cx="571.7" cy="226.5" r="4.1"/><circle cx="575.7" cy="233.9" r="4.1"/><circle cx="578.4" cy="217.8" r="4.1"/><circle cx="580.4" cy="225.2" r="4.1"/><circle cx="582.4" cy="203.1" r="4.1"/><circle cx="584.4" cy="215.8" r="4.1"/><circle cx="586.5" cy="227.9" r="4.1"/><circle cx="588.2" cy="202.4" r="4.1"/><circle cx="591.1" cy="227.2" r="4.1"/><circle cx="593.1" cy="197.1" r="4.1"/><circle cx="595.2" cy="203.8" r="4.1"/><circle cx="597.6" cy="215.2" r="4.1"/><circle cx="601.2" cy="207.8" r="4.1"/><circle cx="603.2" cy="224.5" r="4.1"/><circle cx="607.9" cy="211.1" r="4.1"/><circle cx="609.2" cy="212.5" r="4.1"/><circle cx="611.9" cy="219.2" r="4.1"/><circle cx="613.9" cy="227.2" r="4.1"/><circle cx="615.9" cy="224.5" r="4.1"/><circle cx="616.6" cy="224.6" r="4.1"/><circle cx="617.9" cy="236.6" r="4.1"/><circle cx="621.9" cy="237.2" r="4.1"/><circle cx="622.0" cy="237.0" r="4.1"/><circle cx="623.3" cy="219.8" r="4.1"/><circle cx="623.6" cy="220.7" r="4.1"/><circle cx="625.9" cy="227.7" r="4.1"/><circle cx="628.3" cy="243.3" r="4.1"/><circle cx="630.6" cy="216.8" r="4.1"/><circle cx="632.9" cy="217.6" r="4.1"/><circle cx="634.5" cy="225.3" r="4.1"/><circle cx="636.0" cy="249.5" r="4.1"/><circle cx="638.4" cy="245.6" r="4.1"/><circle cx="640.7" cy="221.4" r="4.1"/><circle cx="642.3" cy="233.9" r="4.1"/><circle cx="644.6" cy="251.1" r="4.1"/><circle cx="647.0" cy="238.6" r="4.1"/><circle cx="648.5" cy="237.8" r="4.1"/><circle cx="651.2" cy="221.4" r="4.1"/><circle cx="652.4" cy="230.0" r="4.1"/><circle cx="655.2" cy="230.8" r="4.1"/><circle cx="657.1" cy="240.2" r="4.1"/><circle cx="659.4" cy="213.7" r="4.1"/><circle cx="661.8" cy="227.7" r="4.1"/><circle cx="663.3" cy="255.7" r="4.1"/><circle cx="664.9" cy="242.5" r="4.1"/><circle cx="666.5" cy="223.0" r="4.1"/><circle cx="668.8" cy="223.0" r="4.1"/><circle cx="674.2" cy="233.9" r="4.1"/><circle cx="675.8" cy="229.2" r="4.1"/></g>
<line x1="434.00" y1="227.30" x2="682.50" y2="227.30" stroke="#231f20" stroke-width="1.3" stroke-dasharray="7.8 3.6" stroke-dashoffset="0"/>
<line x1="102.00" y1="363.40" x2="313.30" y2="363.40" stroke="#cfd1d2" stroke-width="1.3" stroke-dasharray="8.2 2.9" stroke-dashoffset="4.2"/>
<line x1="102.00" y1="410.20" x2="313.30" y2="410.20" stroke="#cfd1d2" stroke-width="1.3" stroke-dasharray="8.2 2.9" stroke-dashoffset="4.2"/>
<path d="M102.90,363.50 L103.20,363.36 L103.50,363.46 L103.80,363.73 L104.10,362.96 L104.40,362.86 L104.70,363.92 L105.00,362.60 L105.30,363.52 L105.60,363.40 L105.90,362.45 L106.20,363.73 L106.50,363.83 L106.80,363.41 L107.10,363.59 L107.40,363.72 L107.70,362.65 L108.00,363.28 L108.30,363.25 L108.60,363.79 L108.90,363.75 L109.20,363.79 L109.50,363.41 L109.80,363.92 L110.10,363.59 L110.40,363.61 L110.70,362.88 L111.00,362.57 L111.30,362.74 L111.60,363.11 L111.90,362.71 L112.20,363.89 L112.50,363.46 L112.80,363.57 L113.10,363.58 L113.40,363.68 L113.70,363.38 L114.00,362.61 L114.30,363.89 L114.60,363.82 L114.90,363.43 L115.20,363.49 L115.50,363.70 L115.80,362.76 L116.10,363.84 L116.40,363.07 L116.70,362.80 L117.00,363.11 L117.30,363.86 L117.60,363.03 L117.90,363.89 L118.20,364.28 L118.50,363.52 L118.80,363.35 L119.10,363.51 L119.40,363.84 L119.70,363.99 L120.00,363.75 L120.30,363.80 L120.60,362.91 L120.90,363.03 L121.20,363.21 L122.50,370.00 L123.60,385.00 L124.40,400.00 L125.10,409.90 L126.00,402.00 L127.40,393.80 L129.20,381.50 L132.70,372.80 L132.70,373.19 L133.00,372.27 L133.31,372.47 L133.61,371.36 L133.92,371.22 L134.22,371.33 L134.53,371.76 L134.84,371.57 L135.14,371.32 L135.44,370.49 L135.75,370.63 L136.06,370.32 L136.36,370.11 L136.66,369.33 L136.97,370.35 L137.28,369.02 L137.58,370.05 L137.89,369.76 L138.19,368.07 L138.50,368.55 L138.80,368.91 L139.11,369.09 L139.42,368.21 L139.73,367.86 L140.04,367.72 L140.35,368.84 L140.66,367.61 L140.97,368.15 L141.28,367.39 L141.59,367.94 L141.90,368.57 L142.21,367.21 L142.52,368.25 L142.83,367.70 L143.14,368.25 L143.45,367.90 L143.76,367.09 L144.07,368.10 L144.38,367.39 L144.69,366.59 L145.00,366.51 L145.30,367.26 L145.60,367.17 L145.90,366.90 L146.20,366.62 L146.50,366.92 L146.80,366.84 L147.10,367.66 L147.40,366.29 L147.70,367.46 L148.00,367.57 L148.30,366.40 L148.60,367.66 L148.90,367.29 L149.20,367.57 L149.50,366.56 L149.80,366.66 L150.10,366.67 L150.40,367.61 L150.70,366.93 L151.00,366.54 L151.30,366.62 L151.60,366.35 L151.90,365.96 L152.20,366.02 L152.50,367.16 L152.80,366.26 L153.11,367.24 L153.42,366.09 L153.72,366.07 L154.03,366.41 L154.34,365.84 L154.65,366.08 L154.95,366.96 L155.26,366.79 L155.57,366.63 L155.88,366.28 L156.18,366.68 L156.49,366.68 L156.80,366.00 L157.11,366.22 L157.41,365.09 L157.72,366.13 L158.03,365.63 L158.34,366.06 L158.64,365.83 L158.95,365.21 L159.26,364.78 L159.56,366.13 L159.87,364.80 L160.18,365.30 L160.49,365.04 L160.79,364.91 L161.10,365.56 L161.41,365.89 L161.72,364.69 L162.03,365.27 L162.33,364.65 L162.64,365.01 L162.95,364.70 L163.25,364.28 L163.56,364.22 L163.87,364.24 L164.18,365.31 L164.48,364.60 L164.79,364.10 L165.10,365.15 L165.40,365.28 L165.70,364.40 L166.01,363.89 L166.31,363.97 L166.61,363.80 L166.91,364.19 L167.22,363.78 L167.52,364.01 L167.82,364.03 L168.12,364.52 L168.43,365.01 L168.73,364.79 L169.03,364.24 L169.33,364.23 L169.64,364.40 L169.94,364.15 L170.24,364.08 L170.54,363.63 L170.85,363.96 L171.15,365.06 L171.45,363.70 L171.75,364.30 L172.05,364.49 L172.36,364.85 L172.66,363.81 L172.96,363.89 L173.26,363.84 L173.57,364.07 L173.87,364.14 L174.17,364.94 L174.47,364.76 L174.78,364.79 L175.08,363.42 L175.38,363.43 L175.68,364.50 L175.99,364.79 L176.29,364.10 L176.59,364.28 L176.89,363.33 L177.20,363.95 L177.50,364.79 L177.80,364.62 L178.10,364.66 L178.40,364.84 L178.71,363.67 L179.01,363.44 L179.31,363.50 L179.61,364.08 L179.92,364.32 L180.22,364.73 L180.52,364.37 L180.82,364.24 L181.13,364.42 L181.43,363.92 L181.73,364.06 L182.03,363.23 L182.34,364.41 L182.64,363.52 L182.94,364.61 L183.24,364.16 L183.55,363.61 L183.85,363.31 L184.15,363.50 L184.45,364.11 L184.75,364.20 L185.06,363.25 L185.36,363.17 L185.66,363.89 L185.96,363.98 L186.27,363.65 L186.57,363.38 L186.87,363.98 L187.17,363.02 L187.48,363.48 L187.78,363.72 L188.08,364.51 L188.38,364.00 L188.69,364.37 L188.99,363.71 L189.29,363.31 L189.59,363.32 L189.90,364.46 L190.20,364.04 L190.50,363.70" fill="none" stroke="#2a72b8" stroke-width="2.1" stroke-linejoin="round" stroke-linecap="round"/>
<path d="M220.40,363.29 L220.70,362.84 L221.00,363.60 L221.30,363.89 L221.60,363.49 L221.90,363.23 L222.20,363.89 L222.50,364.30 L222.80,363.19 L223.10,362.88 L223.40,363.37 L223.70,363.51 L224.00,363.93 L224.30,363.16 L224.60,364.12 L224.90,364.03 L225.20,363.66 L225.50,363.19 L225.80,364.41 L226.10,363.36 L226.40,364.18 L226.70,363.24 L227.00,363.23 L227.30,364.09 L227.60,363.35 L227.90,364.41 L228.20,363.68 L228.50,363.19 L228.80,363.25 L229.10,363.56 L229.40,363.96 L229.70,364.42 L230.00,363.14 L230.30,363.54 L230.60,363.25 L230.90,364.48 L231.20,363.15 L231.50,363.01 L231.80,363.02 L232.10,363.56 L232.40,364.37 L232.70,364.35 L233.00,364.11 L233.30,364.54 L233.60,364.44 L233.90,363.48 L234.20,363.25 L234.50,364.45 L234.80,364.15 L235.10,363.01 L235.40,364.03 L235.70,363.58 L236.00,363.57 L236.30,363.51 L236.60,363.25 L236.90,362.99 L237.20,363.43 L237.50,363.55 L237.80,364.52 L238.10,363.19 L238.40,364.54 L239.20,375.00 L239.80,400.00 L240.60,440.00 L241.30,462.00 L241.80,470.40 L242.40,462.00 L243.00,450.00 L243.70,433.60 L245.50,405.70 L247.40,391.80 L249.00,386.00 L251.10,382.50 L251.10,382.03 L251.41,381.96 L251.71,382.39 L252.02,382.08 L252.32,381.14 L252.63,380.22 L252.94,380.58 L253.24,380.11 L253.55,380.67 L253.86,379.20 L254.16,379.16 L254.47,379.70 L254.78,378.00 L255.08,378.29 L255.39,378.62 L255.69,378.24 L256.00,376.77 L256.31,376.50 L256.62,376.29 L256.94,377.41 L257.25,376.10 L257.56,376.63 L257.87,376.62 L258.18,375.47 L258.49,375.11 L258.81,375.96 L259.12,375.16 L259.43,374.34 L259.74,374.81 L260.05,373.92 L260.36,373.60 L260.68,372.91 L260.99,373.86 L261.30,373.87 L261.60,373.32 L261.91,373.73 L262.21,372.17 L262.52,372.41 L262.82,372.71 L263.13,373.39 L263.43,373.29 L263.74,372.29 L264.04,371.98 L264.35,372.18 L264.65,372.19 L264.95,372.79 L265.26,371.51 L265.56,372.41 L265.87,372.22 L266.17,372.26 L266.48,372.09 L266.78,371.74 L267.09,371.20 L267.39,371.09 L267.70,371.07 L268.00,371.65 L268.30,370.45 L268.60,370.55 L268.90,371.36 L269.20,370.47 L269.50,370.10 L269.80,369.97 L270.10,370.72 L270.40,370.27 L270.70,371.24 L271.00,371.00 L271.30,371.09 L271.60,369.85 L271.90,369.48 L272.20,369.42 L272.50,369.98 L272.80,370.24 L273.10,369.74 L273.40,369.32 L273.70,369.53 L274.00,369.77 L274.30,369.78 L274.60,369.84 L274.90,369.93 L275.20,369.58 L275.50,368.65 L275.80,369.74 L276.10,368.80 L276.40,369.18 L276.70,368.81 L277.00,369.33 L277.30,368.41 L277.60,368.42 L277.90,368.36 L278.20,368.15 L278.50,369.26 L278.80,368.71 L279.10,368.24 L279.40,368.29 L279.70,369.18 L280.00,368.35 L280.30,367.84 L280.60,368.71 L280.90,368.40 L281.20,368.88 L281.50,367.39 L281.80,367.93 L282.10,368.42 L282.40,368.39 L282.70,368.45 L283.00,366.99 L283.30,367.33 L283.60,366.99 L283.90,367.07 L284.20,368.30 L284.50,367.65 L284.81,368.17 L285.11,367.25 L285.41,368.01 L285.71,367.32 L286.01,366.99 L286.31,367.79 L286.61,368.03 L286.91,366.65 L287.22,367.41 L287.52,367.42 L287.82,366.75 L288.12,366.96 L288.42,366.57 L288.72,366.64 L289.02,366.69 L289.32,367.21 L289.62,367.27 L289.93,366.52 L290.23,366.19 L290.53,366.66 L290.83,367.20 L291.13,366.38 L291.43,366.55 L291.73,366.35 L292.04,367.27 L292.34,366.84 L292.64,366.04 L292.94,366.07 L293.24,366.51 L293.54,366.73 L293.84,366.85 L294.14,365.94 L294.44,366.03 L294.75,366.85 L295.05,366.36 L295.35,366.13 L295.65,366.14 L295.95,367.15 L296.25,366.09 L296.55,366.47 L296.86,366.11 L297.16,366.17 L297.46,366.86 L297.76,367.04 L298.06,366.00 L298.36,365.71 L298.66,366.53 L298.96,365.66 L299.26,365.31 L299.57,366.72 L299.87,365.93 L300.17,366.53 L300.47,365.84 L300.77,366.57 L301.07,365.87 L301.37,365.36 L301.68,365.10 L301.98,365.93 L302.28,366.04 L302.58,366.44 L302.88,365.10 L303.18,365.93 L303.48,365.50 L303.78,365.68 L304.08,365.08 L304.39,365.27 L304.69,365.62 L304.99,366.24 L305.29,364.90 L305.59,365.49 L305.89,365.96 L306.19,366.19 L306.50,364.93 L306.80,364.79 L307.10,366.07 L307.40,366.09 L307.70,365.30" fill="none" stroke="#2a72b8" stroke-width="2.1" stroke-linejoin="round" stroke-linecap="round"/>
<path d="M295.7,386.9 H308.5 V372.4" fill="none" stroke="#231f20" stroke-width="2.4"/>
<text x="312.50" y="384.10" font-size="16.8" text-anchor="start" fill="#231f20" >50 pA</text>
<text x="269.20" y="401.60" font-size="16.8" text-anchor="start" fill="#231f20" >10 ms</text>
<line x1="61.80" y1="454.50" x2="61.80" y2="634.80" stroke="#333132" stroke-width="1.7" />
<line x1="58.80" y1="634.00" x2="332.10" y2="634.00" stroke="#333132" stroke-width="1.7" />
<line x1="58.40" y1="463.00" x2="61.80" y2="463.00" stroke="#333132" stroke-width="1.7" />
<line x1="58.40" y1="519.80" x2="61.80" y2="519.80" stroke="#333132" stroke-width="1.7" />
<line x1="58.40" y1="576.50" x2="61.80" y2="576.50" stroke="#333132" stroke-width="1.7" />
<line x1="59.80" y1="491.20" x2="61.80" y2="491.20" stroke="#333132" stroke-width="1.4" />
<line x1="59.80" y1="548.80" x2="61.80" y2="548.80" stroke="#333132" stroke-width="1.4" />
<line x1="59.80" y1="604.10" x2="61.80" y2="604.10" stroke="#333132" stroke-width="1.4" />
<line x1="106.90" y1="634.00" x2="106.90" y2="636.60" stroke="#333132" stroke-width="1.7" />
<line x1="182.40" y1="634.00" x2="182.40" y2="636.60" stroke="#333132" stroke-width="1.7" />
<line x1="248.10" y1="634.00" x2="248.10" y2="636.60" stroke="#333132" stroke-width="1.7" />
<line x1="317.00" y1="634.00" x2="317.00" y2="636.60" stroke="#333132" stroke-width="1.7" />
<text x="56.40" y="467.40" font-size="16.8" text-anchor="end" fill="#231f20" >600</text>
<text x="56.40" y="525.90" font-size="16.8" text-anchor="end" fill="#231f20" >400</text>
<text x="56.40" y="582.60" font-size="16.8" text-anchor="end" fill="#231f20" >200</text>
<text x="56.40" y="640.00" font-size="16.8" text-anchor="end" fill="#231f20" >0</text>
<text x="105.20" y="650.90" font-size="16.8" text-anchor="middle" fill="#231f20" >0</text>
<text x="182.50" y="650.90" font-size="16.8" text-anchor="middle" fill="#231f20" >10</text>
<text x="246.70" y="650.90" font-size="16.8" text-anchor="middle" fill="#231f20" >20</text>
<text x="316.40" y="650.90" font-size="16.8" text-anchor="middle" fill="#231f20" >30</text>
<text transform="translate(21.10,625.80) rotate(-90)" font-size="17.0" fill="#231f20">EPSC amplitdue (pA)</text>
<text x="162.10" y="665.60" font-size="16.8" text-anchor="start" fill="#231f20" >Time (min)</text>
<line x1="106.90" y1="620.60" x2="106.90" y2="637.00" stroke="#231f20" stroke-width="1.7" />
<path d="M106.90,614.00 L110.40,622.20 L106.90,620.40 L103.40,622.20 Z" fill="#231f20"/>
<g fill="#2877bd" stroke="#231f20" stroke-width="1.35"><circle cx="85.9" cy="564.5" r="4.05"/><circle cx="94.8" cy="574.6" r="4.05"/><circle cx="99.0" cy="579.4" r="4.05"/><circle cx="100.8" cy="584.7" r="4.05"/><circle cx="73.4" cy="581.7" r="4.05"/><circle cx="81.2" cy="582.9" r="4.05"/><circle cx="86.5" cy="580.5" r="4.05"/><circle cx="90.1" cy="582.9" r="4.05"/><circle cx="63.9" cy="591.2" r="4.05"/><circle cx="68.1" cy="594.2" r="4.05"/><circle cx="74.6" cy="590.0" r="4.05"/><circle cx="77.0" cy="592.4" r="4.05"/><circle cx="81.8" cy="591.8" r="4.05"/><circle cx="85.9" cy="589.5" r="4.05"/><circle cx="91.9" cy="588.3" r="4.05"/><circle cx="93.6" cy="592.4" r="4.05"/><circle cx="106.7" cy="591.2" r="4.05"/><circle cx="108.5" cy="595.4" r="4.05"/><circle cx="65.1" cy="598.4" r="4.05"/><circle cx="71.1" cy="597.8" r="4.05"/><circle cx="72.3" cy="601.9" r="4.05"/><circle cx="78.2" cy="602.5" r="4.05"/><circle cx="103.7" cy="603.1" r="4.05"/><circle cx="102.6" cy="609.1" r="4.05"/><circle cx="84.1" cy="626.9" r="4.05"/><circle cx="109.7" cy="487.2" r="4.05"/><circle cx="115.9" cy="489.2" r="4.05"/><circle cx="114.4" cy="493.9" r="4.05"/><circle cx="111.2" cy="495.0" r="4.05"/><circle cx="122.2" cy="482.5" r="4.05"/><circle cx="137.0" cy="481.2" r="4.05"/><circle cx="158.6" cy="499.4" r="4.05"/><circle cx="136.0" cy="505.4" r="4.05"/><circle cx="155.1" cy="510.6" r="4.05"/><circle cx="113.1" cy="511.6" r="4.05"/><circle cx="117.5" cy="513.7" r="4.05"/><circle cx="119.6" cy="517.3" r="4.05"/><circle cx="120.6" cy="521.5" r="4.05"/><circle cx="128.4" cy="514.2" r="4.05"/><circle cx="138.8" cy="514.7" r="4.05"/><circle cx="141.9" cy="517.6" r="4.05"/><circle cx="149.5" cy="522.5" r="4.05"/><circle cx="170.3" cy="521.3" r="4.05"/><circle cx="125.3" cy="530.5" r="4.05"/><circle cx="143.0" cy="529.3" r="4.05"/><circle cx="147.6" cy="530.3" r="4.05"/><circle cx="157.0" cy="532.4" r="4.05"/><circle cx="166.2" cy="531.4" r="4.05"/><circle cx="152.8" cy="535.0" r="4.05"/><circle cx="126.3" cy="537.6" r="4.05"/><circle cx="132.6" cy="537.6" r="4.05"/><circle cx="164.3" cy="539.6" r="4.05"/><circle cx="134.6" cy="541.6" r="4.05"/><circle cx="123.2" cy="545.3" r="4.05"/><circle cx="140.4" cy="548.9" r="4.05"/><circle cx="131.0" cy="553.6" r="4.05"/><circle cx="159.1" cy="544.8" r="4.05"/><circle cx="172.6" cy="545.3" r="4.05"/><circle cx="172.1" cy="549.4" r="4.05"/><circle cx="168.8" cy="554.2" r="4.05"/><circle cx="151.3" cy="556.2" r="4.05"/><circle cx="152.3" cy="557.2" r="4.05"/><circle cx="144.3" cy="565.6" r="4.05"/><circle cx="167.4" cy="563.0" r="4.05"/><circle cx="173.7" cy="563.0" r="4.05"/><circle cx="160.1" cy="569.2" r="4.05"/><circle cx="162.7" cy="570.2" r="4.05"/><circle cx="187.2" cy="492.1" r="4.05"/><circle cx="200.7" cy="487.2" r="4.05"/><circle cx="217.3" cy="487.2" r="4.05"/><circle cx="181.2" cy="504.3" r="4.05"/><circle cx="190.3" cy="505.4" r="4.05"/><circle cx="194.8" cy="502.8" r="4.05"/><circle cx="192.9" cy="509.0" r="4.05"/><circle cx="209.5" cy="507.4" r="4.05"/><circle cx="212.9" cy="513.2" r="4.05"/><circle cx="220.4" cy="509.5" r="4.05"/><circle cx="223.3" cy="516.6" r="4.05"/><circle cx="197.6" cy="517.3" r="4.05"/><circle cx="195.5" cy="521.5" r="4.05"/><circle cx="198.1" cy="523.6" r="4.05"/><circle cx="201.7" cy="526.7" r="4.05"/><circle cx="205.4" cy="519.4" r="4.05"/><circle cx="206.9" cy="525.1" r="4.05"/><circle cx="210.0" cy="526.7" r="4.05"/><circle cx="213.2" cy="523.0" r="4.05"/><circle cx="218.9" cy="522.8" r="4.05"/><circle cx="215.2" cy="530.3" r="4.05"/><circle cx="221.5" cy="531.9" r="4.05"/><circle cx="226.7" cy="528.8" r="4.05"/><circle cx="227.7" cy="532.4" r="4.05"/><circle cx="233.5" cy="534.5" r="4.05"/><circle cx="238.6" cy="537.1" r="4.05"/><circle cx="182.7" cy="530.8" r="4.05"/><circle cx="191.3" cy="531.6" r="4.05"/><circle cx="184.0" cy="545.3" r="4.05"/><circle cx="185.6" cy="549.1" r="4.05"/><circle cx="206.4" cy="551.0" r="4.05"/><circle cx="177.8" cy="560.4" r="4.05"/><circle cx="175.7" cy="563.5" r="4.05"/><circle cx="188.7" cy="562.2" r="4.05"/><circle cx="179.6" cy="578.6" r="4.05"/><circle cx="224.1" cy="555.2" r="4.05"/><circle cx="230.8" cy="554.6" r="4.05"/><circle cx="232.4" cy="561.9" r="4.05"/><circle cx="233.5" cy="547.4" r="4.05"/><circle cx="237.6" cy="546.3" r="4.05"/><circle cx="236.6" cy="542.2" r="4.05"/><circle cx="229.4" cy="460.9" r="4.05"/><circle cx="241.1" cy="496.8" r="4.05"/><circle cx="245.8" cy="492.6" r="4.05"/><circle cx="249.1" cy="494.7" r="4.05"/><circle cx="244.8" cy="503.0" r="4.05"/><circle cx="259.8" cy="502.0" r="4.05"/><circle cx="271.6" cy="498.1" r="4.05"/><circle cx="267.1" cy="505.1" r="4.05"/><circle cx="273.4" cy="509.1" r="4.05"/><circle cx="283.8" cy="510.8" r="4.05"/><circle cx="247.7" cy="512.9" r="4.05"/><circle cx="265.4" cy="515.3" r="4.05"/><circle cx="270.2" cy="517.1" r="4.05"/><circle cx="225.5" cy="516.0" r="4.05"/><circle cx="243.2" cy="526.3" r="4.05"/><circle cx="262.4" cy="524.2" r="4.05"/><circle cx="268.7" cy="525.3" r="4.05"/><circle cx="292.1" cy="529.4" r="4.05"/><circle cx="234.9" cy="541.9" r="4.05"/><circle cx="255.2" cy="544.3" r="4.05"/><circle cx="264.0" cy="544.3" r="4.05"/><circle cx="282.2" cy="538.8" r="4.05"/><circle cx="277.0" cy="541.9" r="4.05"/><circle cx="279.1" cy="547.1" r="4.05"/><circle cx="273.9" cy="549.7" r="4.05"/><circle cx="276.0" cy="554.9" r="4.05"/><circle cx="280.6" cy="558.6" r="4.05"/><circle cx="286.4" cy="562.2" r="4.05"/><circle cx="288.5" cy="565.3" r="4.05"/><circle cx="284.3" cy="569.0" r="4.05"/><circle cx="289.5" cy="550.8" r="4.05"/><circle cx="293.1" cy="549.7" r="4.05"/><circle cx="292.6" cy="554.9" r="4.05"/><circle cx="253.1" cy="559.1" r="4.05"/><circle cx="260.9" cy="559.6" r="4.05"/><circle cx="257.2" cy="559.1" r="4.05"/><circle cx="252.6" cy="563.8" r="4.05"/><circle cx="256.7" cy="570.0" r="4.05"/><circle cx="250.0" cy="573.1" r="4.05"/><circle cx="298.9" cy="520.7" r="4.05"/><circle cx="326.1" cy="533.2" r="4.05"/><circle cx="302.9" cy="538.9" r="4.05"/><circle cx="306.4" cy="538.0" r="4.05"/><circle cx="310.9" cy="540.7" r="4.05"/><circle cx="318.6" cy="542.9" r="4.05"/><circle cx="329.6" cy="542.9" r="4.05"/><circle cx="332.3" cy="547.0" r="4.05"/><circle cx="307.3" cy="543.4" r="4.05"/><circle cx="327.9" cy="552.9" r="4.05"/><circle cx="288.6" cy="551.4" r="4.05"/><circle cx="293.9" cy="549.6" r="4.05"/><circle cx="295.7" cy="555.0" r="4.05"/><circle cx="291.3" cy="556.8" r="4.05"/><circle cx="301.1" cy="551.4" r="4.05"/><circle cx="304.6" cy="551.4" r="4.05"/><circle cx="311.8" cy="552.3" r="4.05"/><circle cx="316.8" cy="553.2" r="4.05"/><circle cx="313.6" cy="560.4" r="4.05"/><circle cx="323.9" cy="558.6" r="4.05"/><circle cx="321.6" cy="562.1" r="4.05"/><circle cx="319.8" cy="565.7" r="4.05"/><circle cx="330.5" cy="563.9" r="4.05"/><circle cx="297.5" cy="570.2" r="4.05"/><circle cx="300.7" cy="570.7" r="4.05"/><circle cx="309.4" cy="592.7" r="4.05"/></g>
<line x1="62.00" y1="591.70" x2="336.00" y2="591.70" stroke="#3a3a3a" stroke-width="1.5" stroke-dasharray="8.2 3.07" stroke-dashoffset="8.4"/>
<line x1="411.00" y1="457.20" x2="411.00" y2="634.80" stroke="#333132" stroke-width="1.7" />
<line x1="407.30" y1="634.00" x2="679.70" y2="634.00" stroke="#333132" stroke-width="1.7" />
<line x1="407.50" y1="457.40" x2="411.00" y2="457.40" stroke="#333132" stroke-width="1.7" />
<line x1="407.50" y1="516.40" x2="411.00" y2="516.40" stroke="#333132" stroke-width="1.7" />
<line x1="409.20" y1="486.90" x2="411.00" y2="486.90" stroke="#333132" stroke-width="1.4" />
<line x1="409.20" y1="545.70" x2="411.00" y2="545.70" stroke="#333132" stroke-width="1.4" />
<line x1="409.20" y1="604.30" x2="411.00" y2="604.30" stroke="#333132" stroke-width="1.4" />
<line x1="450.30" y1="634.00" x2="450.30" y2="636.20" stroke="#333132" stroke-width="1.7" />
<line x1="513.20" y1="634.00" x2="513.20" y2="636.20" stroke="#333132" stroke-width="1.7" />
<line x1="576.00" y1="634.00" x2="576.00" y2="636.20" stroke="#333132" stroke-width="1.7" />
<line x1="639.50" y1="634.00" x2="639.50" y2="636.20" stroke="#333132" stroke-width="1.7" />
<text x="405.60" y="463.10" font-size="16.8" text-anchor="end" fill="#231f20" >3</text>
<text x="405.60" y="521.90" font-size="16.8" text-anchor="end" fill="#231f20" >2</text>
<text x="405.60" y="585.60" font-size="16.8" text-anchor="end" fill="#231f20" >1</text>
<text x="405.60" y="639.70" font-size="16.8" text-anchor="end" fill="#231f20" >0</text>
<text x="450.00" y="651.90" font-size="16.8" text-anchor="middle" fill="#231f20" >0</text>
<text x="511.40" y="651.90" font-size="16.8" text-anchor="middle" fill="#231f20" >10</text>
<text x="575.20" y="651.90" font-size="16.8" text-anchor="middle" fill="#231f20" >20</text>
<text x="639.40" y="651.90" font-size="16.8" text-anchor="middle" fill="#231f20" >30</text>
<text transform="translate(384.80,652.80) rotate(-90)" font-size="17.0" fill="#231f20">Normalised EPSC amplitude</text>
<text x="499.80" y="668.50" font-size="16.8" text-anchor="start" fill="#231f20" >Time (min)</text>
<line x1="450.30" y1="621.30" x2="450.30" y2="637.00" stroke="#231f20" stroke-width="1.7" />
<path d="M450.30,614.80 L453.80,622.90 L450.30,621.10 L446.80,622.90 Z" fill="#231f20"/>
<line x1="411.00" y1="579.30" x2="680.40" y2="579.30" stroke="#3a3a3a" stroke-width="1.5" stroke-dasharray="8.2 3.0" stroke-dashoffset="0"/>
<path d="M409.5,572.0V578.0M407.7,572.0H411.3M407.7,578.0H411.3M410.5,574.0V581.0M408.7,574.0H412.3M408.7,581.0H412.3M412.0,572.0V578.0M410.2,572.0H413.8M410.2,578.0H413.8M413.5,575.0V581.0M411.7,575.0H415.3M411.7,581.0H415.3M415.0,571.0V578.0M413.2,571.0H416.8M413.2,578.0H416.8M416.5,575.0V582.0M414.7,575.0H418.3M414.7,582.0H418.3M417.8,573.0V580.0M416.0,573.0H419.6M416.0,580.0H419.6M419.5,576.0V584.8M417.7,576.0H421.3M417.7,584.8H421.3M420.8,567.7V580.3M419.0,567.7H422.6M419.0,580.3H422.6M423.0,577.0V583.0M421.2,577.0H424.8M421.2,583.0H424.8M425.4,565.1V578.3M423.6,565.1H427.2M423.6,578.3H427.2M427.2,573.0V580.0M425.4,573.0H429.0M425.4,580.0H429.0M429.5,581.0V588.0M427.7,581.0H431.3M427.7,588.0H431.3M430.4,562.0V573.0M428.6,562.0H432.2M428.6,573.0H432.2M431.9,568.0V575.0M430.1,568.0H433.7M430.1,575.0H433.7M433.0,572.0V578.0M431.2,572.0H434.8M431.2,578.0H434.8M435.4,575.0V582.0M433.6,575.0H437.2M433.6,582.0H437.2M435.6,577.0V584.0M433.8,577.0H437.4M433.8,584.0H437.4M437.7,568.0V575.0M435.9,568.0H439.5M435.9,575.0H439.5M438.3,565.0V571.0M436.5,565.0H440.1M436.5,571.0H440.1M443.5,572.0V578.0M441.7,572.0H445.3M441.7,578.0H445.3M445.3,565.0V571.0M443.5,565.0H447.1M443.5,571.0H447.1M447.9,569.0V576.0M446.1,569.0H449.7M446.1,576.0H449.7M449.4,480.7V490.9M447.6,480.7H451.2M447.6,490.9H451.2M450.8,485.4V496.4M449.0,485.4H452.6M449.0,496.4H452.6M450.8,508.1V519.1M449.0,508.1H452.6M449.0,519.1H452.6M451.6,501.5V512.5M449.8,501.5H453.4M449.8,512.5H453.4M454.5,497.9V508.9M452.7,497.9H456.3M452.7,508.9H456.3M456.0,490.6V501.6M454.2,490.6H457.8M454.2,501.6H457.8M456.7,505.9V516.9M454.9,505.9H458.5M454.9,516.9H458.5M457.4,511.0V522.0M455.6,511.0H459.2M455.6,522.0H459.2M459.6,516.5V535.5M457.8,516.5H461.4M457.8,535.5H461.4M461.1,508.1V519.1M459.3,508.1H462.9M459.3,519.1H462.9M464.0,513.2V524.2M462.2,513.2H465.8M462.2,524.2H465.8M465.4,519.0V530.0M463.6,519.0H467.2M463.6,530.0H467.2M466.9,501.9V515.1M465.1,501.9H468.7M465.1,515.1H468.7M468.4,523.4V534.4M466.6,523.4H470.2M466.6,534.4H470.2M470.5,509.5V520.5M468.7,509.5H472.3M468.7,520.5H472.3M471.3,519.0V530.0M469.5,519.0H473.1M469.5,530.0H473.1M473.5,500.4V513.6M471.7,500.4H475.3M471.7,513.6H475.3M475.7,510.3V521.3M473.9,510.3H477.5M473.9,521.3H477.5M477.8,518.3V529.3M476.0,518.3H479.6M476.0,529.3H479.6M480.0,501.9V513.5M478.2,501.9H481.8M478.2,513.5H481.8M481.5,511.0V522.0M479.7,511.0H483.3M479.7,522.0H483.3M483.0,529.2V540.2M481.2,529.2H484.8M481.2,540.2H484.8M485.1,513.2V524.2M483.3,513.2H486.9M483.3,524.2H486.9M486.6,505.9V516.9M484.8,505.9H488.4M484.8,516.9H488.4M488.8,515.4V526.4M487.0,515.4H490.6M487.0,526.4H490.6M490.3,496.8V510.0M488.5,496.8H492.1M488.5,510.0H492.1M491.7,519.8V530.8M489.9,519.8H493.5M489.9,530.8H493.5M493.2,508.1V519.1M491.4,508.1H495.0M491.4,519.1H495.0M496.1,516.8V527.8M494.3,516.8H497.9M494.3,527.8H497.9M496.8,499.0V510.6M495.0,499.0H498.6M495.0,510.6H498.6M500.5,508.8V519.8M498.7,508.8H502.3M498.7,519.8H502.3M502.7,522.7V533.7M500.9,522.7H504.5M500.9,533.7H504.5M503.4,513.2V524.2M501.6,513.2H505.2M501.6,524.2H505.2M504.9,518.3V529.3M503.1,518.3H506.7M503.1,529.3H506.7M507.0,502.2V513.2M505.2,502.2H508.8M505.2,513.2H508.8M508.5,506.6V517.6M506.7,506.6H510.3M506.7,517.6H510.3M509.2,516.8V527.8M507.4,516.8H511.0M507.4,527.8H511.0M510.0,521.2V532.2M508.2,521.2H511.8M508.2,532.2H511.8M513.6,507.5V519.7M511.8,507.5H515.4M511.8,519.7H515.4M514.3,515.4V526.4M512.5,515.4H516.1M512.5,526.4H516.1M516.5,532.2V543.2M514.7,532.2H518.3M514.7,543.2H518.3M518.0,518.3V529.3M516.2,518.3H519.8M516.2,529.3H519.8M518.0,522.7V533.7M516.2,522.7H519.8M516.2,533.7H519.8M521.6,509.5V519.1M519.8,509.5H523.4M519.8,519.1H523.4M523.8,516.8V527.8M522.0,516.8H525.6M522.0,527.8H525.6M524.6,524.9V535.9M522.8,524.9H526.4M522.8,535.9H526.4M526.8,513.9V524.9M525.0,513.9H528.6M525.0,524.9H528.6M528.9,519.8V530.8M527.1,519.8H530.7M527.1,530.8H530.7M528.9,535.8V546.8M527.1,535.8H530.7M527.1,546.8H530.7M531.1,524.9V535.9M529.3,524.9H532.9M529.3,535.9H532.9M532.6,511.7V522.7M530.8,511.7H534.4M530.8,522.7H534.4M532.6,535.1V546.1M530.8,535.1H534.4M530.8,546.1H534.4M535.5,522.7V533.7M533.7,522.7H537.3M533.7,533.7H537.3M538.4,511.4V523.0M536.6,511.4H540.2M536.6,523.0H540.2M541.4,521.2V532.2M539.6,521.2H543.2M539.6,532.2H543.2M542.1,528.5V539.5M540.3,528.5H543.9M540.3,539.5H543.9M544.6,523.9V534.9M542.8,523.9H546.4M542.8,534.9H546.4M544.6,528.3V539.3M542.8,528.3H546.4M542.8,539.3H546.4M547.5,513.4V526.4M545.7,513.4H549.3M545.7,526.4H549.3M549.0,523.2V534.2M547.2,523.2H550.8M547.2,534.2H550.8M549.7,534.9V545.9M547.9,534.9H551.5M547.9,545.9H551.5M551.2,531.2V542.2M549.4,531.2H553.0M549.4,542.2H553.0M553.4,520.3V531.3M551.6,520.3H555.2M551.6,531.3H555.2M556.3,521.7V532.7M554.5,521.7H558.1M554.5,532.7H558.1M558.5,513.7V524.7M556.7,513.7H560.3M556.7,524.7H560.3M560.7,528.3V539.3M558.9,528.3H562.5M558.9,539.3H562.5M562.8,523.2V534.2M561.0,523.2H564.6M561.0,534.2H564.6M562.8,531.2V542.2M561.0,531.2H564.6M561.0,542.2H564.6M565.0,537.1V548.1M563.2,537.1H566.8M563.2,548.1H566.8M566.5,518.8V529.8M564.7,518.8H568.3M564.7,529.8H568.3M568.7,542.2V553.2M566.9,542.2H570.5M566.9,553.2H570.5M570.1,523.2V534.2M568.3,523.2H571.9M568.3,534.2H571.9M572.3,509.0V523.6M570.5,509.0H574.1M570.5,523.6H574.1M572.3,529.8V540.8M570.5,529.8H574.1M570.5,540.8H574.1M575.3,533.4V544.4M573.5,533.4H577.1M573.5,544.4H577.1M578.2,519.5V530.5M576.4,519.5H580.0M576.4,530.5H580.0M580.4,521.7V532.7M578.6,521.7H582.2M578.6,532.7H582.2M582.6,533.7V545.5M580.8,533.7H584.4M580.8,545.5H584.4M583.3,514.1V534.5M581.5,514.1H585.1M581.5,534.5H585.1M585.5,548.7V559.7M583.7,548.7H587.3M583.7,559.7H587.3M587.7,553.6V566.6M585.9,553.6H589.5M585.9,566.6H589.5M590.6,540.7V551.7M588.8,540.7H592.4M588.8,551.7H592.4M592.8,501.0V525.8M591.0,501.0H594.6M591.0,525.8H594.6M592.8,530.1V546.3M591.0,530.1H594.6M591.0,546.3H594.6M594.2,544.4V555.4M592.4,544.4H596.0M592.4,555.4H596.0M595.7,547.3V558.3M593.9,547.3H597.5M593.9,558.3H597.5M599.3,531.2V542.2M597.5,531.2H601.1M597.5,542.2H601.1M599.3,542.2V553.2M597.5,542.2H601.1M597.5,553.2H601.1M603.0,549.5V560.5M601.2,549.5H604.8M601.2,560.5H604.8M604.5,531.2V542.2M602.7,531.2H606.3M602.7,542.2H606.3M605.9,540.0V551.0M604.1,540.0H607.7M604.1,551.0H607.7M609.6,532.7V543.7M607.8,532.7H611.4M607.8,543.7H611.4M611.0,539.2V550.2M609.2,539.2H612.8M609.2,550.2H612.8M613.2,554.7V569.9M611.4,554.7H615.0M611.4,569.9H615.0M616.1,521.4V550.6M614.3,521.4H617.9M614.3,550.6H617.9M617.6,540.7V551.7M615.8,540.7H619.4M615.8,551.7H619.4M620.5,545.8V556.8M618.7,545.8H622.3M618.7,556.8H622.3M622.7,532.7V543.7M620.9,532.7H624.5M620.9,543.7H624.5M623.4,542.9V553.9M621.6,542.9H625.2M621.6,553.9H625.2M626.4,550.2V561.2M624.6,550.2H628.2M624.6,561.2H628.2M627.1,522.8V555.0M625.3,522.8H628.9M625.3,555.0H628.9M629.3,553.1V564.1M627.5,553.1H631.1M627.5,564.1H631.1M630.6,548.1V559.1M628.8,548.1H632.4M628.8,559.1H632.4M631.3,556.2V567.2M629.5,556.2H633.1M629.5,567.2H633.1M631.8,548.2V573.2M630.0,548.2H633.6M630.0,573.2H633.6M632.6,524.3V559.7M630.8,524.3H634.4M630.8,559.7H634.4M633.1,536.2V547.2M631.3,536.2H634.9M631.3,547.2H634.9M633.6,513.6V524.6M631.8,513.6H635.4M631.8,524.6H635.4M633.6,536.2V547.2M631.8,536.2H635.4M631.8,547.2H635.4M634.3,552.5V563.5M632.5,552.5H636.1M632.5,563.5H636.1M635.8,502.3V535.5M634.0,502.3H637.6M634.0,535.5H637.6M637.0,550.3V576.5M635.2,550.3H638.8M635.2,576.5H638.8M637.3,549.8V576.6M635.5,549.8H639.1M635.5,576.6H639.1M639.0,548.0V559.0M637.2,548.0H640.8M637.2,559.0H640.8M640.3,547.3V558.3M638.5,547.3H642.1M638.5,558.3H642.1M640.3,516.5V527.5M638.5,516.5H642.1M638.5,527.5H642.1M641.0,497.1V546.1M639.2,497.1H642.8M639.2,546.1H642.8M643.0,525.0V536.0M641.2,525.0H644.8M641.2,536.0H644.8M643.2,511.2V551.4M641.4,511.2H645.0M641.4,551.4H645.0M644.3,543.4V554.4M642.5,543.4H646.1M642.5,554.4H646.1M644.7,542.9V553.9M642.9,542.9H646.5M642.9,553.9H646.5M647.7,553.3V564.3M645.9,553.3H649.5M645.9,564.3H649.5M648.2,553.3V564.3M646.4,553.3H650.0M646.4,564.3H650.0M649.9,534.7V545.7M648.1,534.7H651.7M648.1,545.7H651.7M652.2,547.3V558.3M650.4,547.3H654.0M650.4,558.3H654.0M653.6,512.0V555.0M651.8,512.0H655.4M651.8,555.0H655.4M658.1,538.4V549.4M656.3,538.4H659.9M656.3,549.4H659.9M660.3,505.3V534.9M658.5,505.3H662.1M658.5,534.9H662.1M660.7,515.8V526.8M658.9,515.8H662.5M658.9,526.8H662.5M661.1,526.5V537.5M659.3,526.5H662.9M659.3,537.5H662.9M662.6,539.1V550.1M660.8,539.1H664.4M660.8,550.1H664.4M664.8,488.2V538.6M663.0,488.2H666.6M663.0,538.6H666.6M665.5,525.8V536.8M663.7,525.8H667.3M663.7,536.8H667.3M667.8,534.7V545.7M666.0,534.7H669.6M666.0,545.7H669.6M668.5,539.9V550.9M666.7,539.9H670.3M666.7,550.9H670.3M671.2,524.4V535.4M669.4,524.4H673.0M669.4,535.4H673.0M671.5,509.7V549.9M669.7,509.7H673.3M669.7,549.9H673.3M673.8,535.5V546.5M672.0,535.5H675.6M672.0,546.5H675.6M674.4,535.4V546.4M672.6,535.4H676.2M672.6,546.4H676.2M675.1,542.1V553.1M673.3,542.1H676.9M673.3,553.1H676.9M675.9,542.1V553.1M674.1,542.1H677.7M674.1,553.1H677.7" stroke="#231f20" stroke-width="1.1" fill="none"/>
<g fill="#2877bd" stroke="#231f20" stroke-width="1.35"><circle cx="413.5" cy="578.0" r="4.1"/><circle cx="415.0" cy="574.5" r="4.1"/><circle cx="416.5" cy="578.5" r="4.1"/><circle cx="417.8" cy="576.4" r="4.1"/><circle cx="419.5" cy="579.0" r="4.1"/><circle cx="420.8" cy="574.0" r="4.1"/></g>
<g fill="#231f20"><ellipse cx="413.6" cy="576.2" rx="5.4" ry="7.6"/><circle cx="416.8" cy="573.2" r="3.8"/><circle cx="416.8" cy="579.2" r="3.8"/></g>
<g fill="#2877bd" stroke="#231f20" stroke-width="1.35"><circle cx="423.0" cy="580.0" r="4.1"/><circle cx="425.4" cy="571.7" r="4.1"/><circle cx="427.2" cy="576.9" r="4.1"/><circle cx="429.5" cy="584.5" r="4.1"/><circle cx="430.4" cy="567.5" r="4.1"/><circle cx="431.9" cy="571.7" r="4.1"/><circle cx="433.0" cy="575.0" r="4.1"/><circle cx="435.4" cy="578.7" r="4.1"/><circle cx="435.6" cy="580.4" r="4.1"/><circle cx="437.7" cy="571.7" r="4.1"/><circle cx="438.3" cy="568.1" r="4.1"/><circle cx="443.5" cy="575.2" r="4.1"/><circle cx="445.3" cy="568.2" r="4.1"/><circle cx="447.9" cy="572.8" r="4.1"/><circle cx="449.4" cy="485.8" r="4.1"/><circle cx="449.8" cy="488.4" r="4.1"/><circle cx="450.8" cy="490.9" r="4.1"/><circle cx="450.8" cy="513.6" r="4.1"/><circle cx="451.0" cy="510.4" r="4.1"/><circle cx="451.6" cy="507.0" r="4.1"/><circle cx="453.2" cy="504.7" r="4.1"/><circle cx="454.5" cy="503.4" r="4.1"/><circle cx="454.7" cy="500.2" r="4.1"/><circle cx="456.0" cy="496.1" r="4.1"/><circle cx="456.7" cy="511.4" r="4.1"/><circle cx="456.8" cy="513.6" r="4.1"/><circle cx="457.4" cy="516.5" r="4.1"/><circle cx="459.8" cy="515.0" r="4.1"/><circle cx="459.6" cy="526.0" r="4.1"/><circle cx="462.2" cy="522.3" r="4.1"/><circle cx="461.1" cy="513.6" r="4.1"/><circle cx="462.7" cy="515.7" r="4.1"/><circle cx="464.0" cy="518.7" r="4.1"/><circle cx="464.9" cy="522.0" r="4.1"/><circle cx="465.4" cy="524.5" r="4.1"/><circle cx="466.9" cy="527.0" r="4.1"/><circle cx="466.9" cy="508.5" r="4.1"/><circle cx="468.9" cy="511.2" r="4.1"/><circle cx="468.4" cy="528.9" r="4.1"/><circle cx="470.2" cy="526.8" r="4.1"/><circle cx="470.5" cy="515.0" r="4.1"/><circle cx="471.8" cy="510.4" r="4.1"/><circle cx="471.3" cy="524.5" r="4.1"/><circle cx="473.9" cy="520.1" r="4.1"/><circle cx="473.5" cy="507.0" r="4.1"/><circle cx="474.9" cy="511.9" r="4.1"/><circle cx="475.7" cy="515.8" r="4.1"/><circle cx="477.0" cy="520.3" r="4.1"/><circle cx="477.8" cy="523.8" r="4.1"/><circle cx="479.5" cy="520.5" r="4.1"/><circle cx="480.0" cy="507.7" r="4.1"/><circle cx="480.7" cy="512.6" r="4.1"/><circle cx="481.5" cy="516.5" r="4.1"/><circle cx="483.8" cy="517.1" r="4.1"/><circle cx="483.0" cy="534.7" r="4.1"/><circle cx="485.1" cy="518.7" r="4.1"/><circle cx="485.4" cy="514.7" r="4.1"/><circle cx="486.6" cy="511.4" r="4.1"/><circle cx="489.0" cy="507.3" r="4.1"/><circle cx="488.8" cy="520.9" r="4.1"/><circle cx="490.4" cy="522.9" r="4.1"/><circle cx="490.3" cy="503.4" r="4.1"/><circle cx="491.7" cy="525.3" r="4.1"/><circle cx="493.9" cy="523.7" r="4.1"/><circle cx="493.2" cy="513.6" r="4.1"/><circle cx="494.5" cy="518.1" r="4.1"/><circle cx="496.1" cy="522.3" r="4.1"/><circle cx="498.4" cy="518.8" r="4.1"/><circle cx="496.8" cy="504.8" r="4.1"/><circle cx="500.5" cy="514.3" r="4.1"/><circle cx="502.2" cy="517.0" r="4.1"/><circle cx="502.7" cy="528.2" r="4.1"/><circle cx="504.2" cy="526.6" r="4.1"/><circle cx="503.4" cy="518.7" r="4.1"/><circle cx="504.4" cy="520.8" r="4.1"/><circle cx="504.9" cy="523.8" r="4.1"/><circle cx="507.5" cy="523.6" r="4.1"/><circle cx="507.0" cy="507.7" r="4.1"/><circle cx="508.2" cy="510.0" r="4.1"/><circle cx="508.5" cy="512.1" r="4.1"/><circle cx="509.2" cy="522.3" r="4.1"/><circle cx="509.9" cy="524.2" r="4.1"/><circle cx="510.0" cy="526.7" r="4.1"/><circle cx="512.5" cy="523.9" r="4.1"/><circle cx="513.6" cy="513.6" r="4.1"/><circle cx="513.7" cy="516.7" r="4.1"/><circle cx="514.3" cy="520.9" r="4.1"/><circle cx="516.6" cy="522.9" r="4.1"/><circle cx="516.5" cy="537.7" r="4.1"/><circle cx="518.0" cy="523.8" r="4.1"/><circle cx="517.5" cy="526.4" r="4.1"/><circle cx="518.0" cy="528.2" r="4.1"/><circle cx="521.6" cy="514.3" r="4.1"/><circle cx="522.6" cy="517.9" r="4.1"/><circle cx="523.8" cy="522.3" r="4.1"/><circle cx="524.0" cy="526.7" r="4.1"/><circle cx="524.6" cy="530.4" r="4.1"/><circle cx="527.2" cy="527.3" r="4.1"/><circle cx="526.8" cy="519.4" r="4.1"/><circle cx="528.0" cy="521.8" r="4.1"/><circle cx="528.9" cy="525.3" r="4.1"/><circle cx="530.3" cy="527.6" r="4.1"/><circle cx="528.9" cy="541.3" r="4.1"/><circle cx="531.2" cy="541.5" r="4.1"/><circle cx="531.1" cy="530.4" r="4.1"/><circle cx="533.3" cy="529.9" r="4.1"/><circle cx="532.6" cy="517.2" r="4.1"/><circle cx="532.6" cy="540.6" r="4.1"/><circle cx="535.5" cy="528.2" r="4.1"/><circle cx="538.4" cy="517.2" r="4.1"/><circle cx="541.4" cy="526.7" r="4.1"/><circle cx="541.5" cy="529.8" r="4.1"/><circle cx="542.1" cy="534.0" r="4.1"/><circle cx="543.5" cy="531.1" r="4.1"/><circle cx="544.6" cy="529.4" r="4.1"/><circle cx="544.2" cy="531.5" r="4.1"/><circle cx="544.6" cy="533.8" r="4.1"/><circle cx="546.9" cy="530.8" r="4.1"/><circle cx="547.5" cy="519.9" r="4.1"/><circle cx="547.7" cy="524.7" r="4.1"/><circle cx="549.0" cy="528.7" r="4.1"/><circle cx="549.9" cy="533.3" r="4.1"/><circle cx="549.7" cy="540.4" r="4.1"/><circle cx="550.9" cy="538.4" r="4.1"/><circle cx="551.2" cy="536.7" r="4.1"/><circle cx="553.4" cy="525.8" r="4.1"/><circle cx="554.8" cy="526.5" r="4.1"/><circle cx="556.3" cy="527.2" r="4.1"/><circle cx="557.6" cy="523.3" r="4.1"/><circle cx="558.5" cy="519.2" r="4.1"/><circle cx="560.7" cy="533.8" r="4.1"/><circle cx="561.8" cy="531.4" r="4.1"/><circle cx="562.8" cy="528.7" r="4.1"/><circle cx="563.3" cy="532.7" r="4.1"/><circle cx="562.8" cy="536.7" r="4.1"/><circle cx="563.8" cy="539.9" r="4.1"/><circle cx="565.0" cy="542.6" r="4.1"/><circle cx="566.5" cy="544.9" r="4.1"/><circle cx="566.5" cy="524.3" r="4.1"/><circle cx="568.9" cy="526.5" r="4.1"/><circle cx="568.7" cy="547.7" r="4.1"/><circle cx="570.1" cy="528.7" r="4.1"/><circle cx="571.3" cy="531.4" r="4.1"/><circle cx="572.3" cy="516.3" r="4.1"/><circle cx="572.3" cy="535.3" r="4.1"/><circle cx="573.7" cy="537.2" r="4.1"/><circle cx="575.3" cy="538.9" r="4.1"/><circle cx="578.2" cy="525.0" r="4.1"/><circle cx="578.7" cy="526.2" r="4.1"/><circle cx="580.4" cy="527.2" r="4.1"/><circle cx="582.0" cy="525.2" r="4.1"/><circle cx="582.6" cy="539.6" r="4.1"/><circle cx="583.3" cy="524.3" r="4.1"/><circle cx="585.5" cy="554.2" r="4.1"/><circle cx="586.8" cy="557.1" r="4.1"/><circle cx="587.7" cy="560.1" r="4.1"/><circle cx="590.6" cy="546.2" r="4.1"/><circle cx="591.9" cy="542.0" r="4.1"/><circle cx="592.8" cy="513.4" r="4.1"/><circle cx="592.8" cy="538.2" r="4.1"/><circle cx="594.2" cy="549.9" r="4.1"/><circle cx="595.2" cy="551.6" r="4.1"/><circle cx="595.7" cy="552.8" r="4.1"/><circle cx="596.9" cy="549.7" r="4.1"/><circle cx="599.3" cy="536.7" r="4.1"/><circle cx="599.3" cy="547.7" r="4.1"/><circle cx="601.4" cy="551.9" r="4.1"/><circle cx="603.0" cy="555.0" r="4.1"/><circle cx="604.5" cy="536.7" r="4.1"/><circle cx="604.9" cy="541.0" r="4.1"/><circle cx="605.9" cy="545.5" r="4.1"/><circle cx="607.9" cy="541.6" r="4.1"/><circle cx="609.6" cy="538.2" r="4.1"/><circle cx="610.1" cy="541.2" r="4.1"/><circle cx="611.0" cy="544.7" r="4.1"/><circle cx="613.2" cy="562.3" r="4.1"/><circle cx="616.1" cy="536.0" r="4.1"/><circle cx="617.6" cy="546.2" r="4.1"/><circle cx="618.9" cy="548.9" r="4.1"/><circle cx="620.5" cy="551.3" r="4.1"/><circle cx="621.7" cy="549.7" r="4.1"/><circle cx="622.7" cy="538.2" r="4.1"/><circle cx="625.2" cy="538.0" r="4.1"/><circle cx="623.4" cy="548.4" r="4.1"/><circle cx="625.0" cy="552.3" r="4.1"/><circle cx="626.4" cy="555.7" r="4.1"/><circle cx="627.6" cy="556.8" r="4.1"/><circle cx="627.1" cy="538.9" r="4.1"/><circle cx="629.3" cy="558.6" r="4.1"/><circle cx="630.3" cy="555.8" r="4.1"/><circle cx="630.6" cy="553.6" r="4.1"/><circle cx="630.6" cy="557.6" r="4.1"/><circle cx="631.3" cy="561.7" r="4.1"/><circle cx="631.8" cy="560.7" r="4.1"/><circle cx="631.8" cy="560.7" r="4.1"/><circle cx="632.6" cy="542.0" r="4.1"/><circle cx="632.6" cy="541.7" r="4.1"/><circle cx="633.1" cy="541.7" r="4.1"/><circle cx="633.8" cy="541.6" r="4.1"/><circle cx="633.6" cy="519.1" r="4.1"/><circle cx="635.1" cy="518.6" r="4.1"/><circle cx="633.6" cy="541.7" r="4.1"/><circle cx="634.3" cy="558.0" r="4.1"/><circle cx="635.5" cy="560.9" r="4.1"/><circle cx="635.8" cy="518.9" r="4.1"/><circle cx="637.0" cy="563.4" r="4.1"/><circle cx="637.6" cy="563.2" r="4.1"/><circle cx="637.3" cy="563.2" r="4.1"/><circle cx="639.0" cy="553.5" r="4.1"/><circle cx="639.3" cy="552.7" r="4.1"/><circle cx="640.3" cy="552.8" r="4.1"/><circle cx="640.3" cy="522.0" r="4.1"/><circle cx="640.7" cy="521.4" r="4.1"/><circle cx="641.0" cy="521.6" r="4.1"/><circle cx="642.4" cy="526.5" r="4.1"/><circle cx="643.0" cy="530.5" r="4.1"/><circle cx="642.7" cy="530.6" r="4.1"/><circle cx="643.2" cy="531.3" r="4.1"/><circle cx="644.3" cy="548.9" r="4.1"/><circle cx="644.9" cy="548.8" r="4.1"/><circle cx="644.7" cy="548.4" r="4.1"/><circle cx="647.7" cy="558.8" r="4.1"/><circle cx="648.3" cy="558.6" r="4.1"/><circle cx="648.2" cy="558.8" r="4.1"/><circle cx="649.8" cy="555.6" r="4.1"/><circle cx="649.9" cy="540.2" r="4.1"/><circle cx="652.1" cy="536.6" r="4.1"/><circle cx="652.2" cy="552.8" r="4.1"/><circle cx="653.6" cy="533.5" r="4.1"/><circle cx="658.1" cy="543.9" r="4.1"/><circle cx="660.3" cy="520.1" r="4.1"/><circle cx="660.3" cy="520.6" r="4.1"/><circle cx="660.7" cy="521.3" r="4.1"/><circle cx="662.7" cy="517.2" r="4.1"/><circle cx="661.1" cy="532.0" r="4.1"/><circle cx="663.8" cy="531.2" r="4.1"/><circle cx="662.6" cy="544.6" r="4.1"/><circle cx="664.8" cy="513.4" r="4.1"/><circle cx="665.5" cy="531.3" r="4.1"/><circle cx="666.1" cy="536.3" r="4.1"/><circle cx="667.8" cy="540.2" r="4.1"/><circle cx="668.6" cy="543.4" r="4.1"/><circle cx="668.5" cy="545.4" r="4.1"/><circle cx="671.2" cy="529.9" r="4.1"/><circle cx="671.3" cy="530.4" r="4.1"/><circle cx="671.5" cy="529.8" r="4.1"/><circle cx="673.8" cy="541.0" r="4.1"/><circle cx="674.6" cy="540.6" r="4.1"/><circle cx="674.4" cy="540.9" r="4.1"/><circle cx="675.0" cy="544.7" r="4.1"/><circle cx="675.1" cy="547.6" r="4.1"/><circle cx="675.7" cy="547.6" r="4.1"/><circle cx="675.9" cy="547.6" r="4.1"/></g>
</svg>
</body></html>
